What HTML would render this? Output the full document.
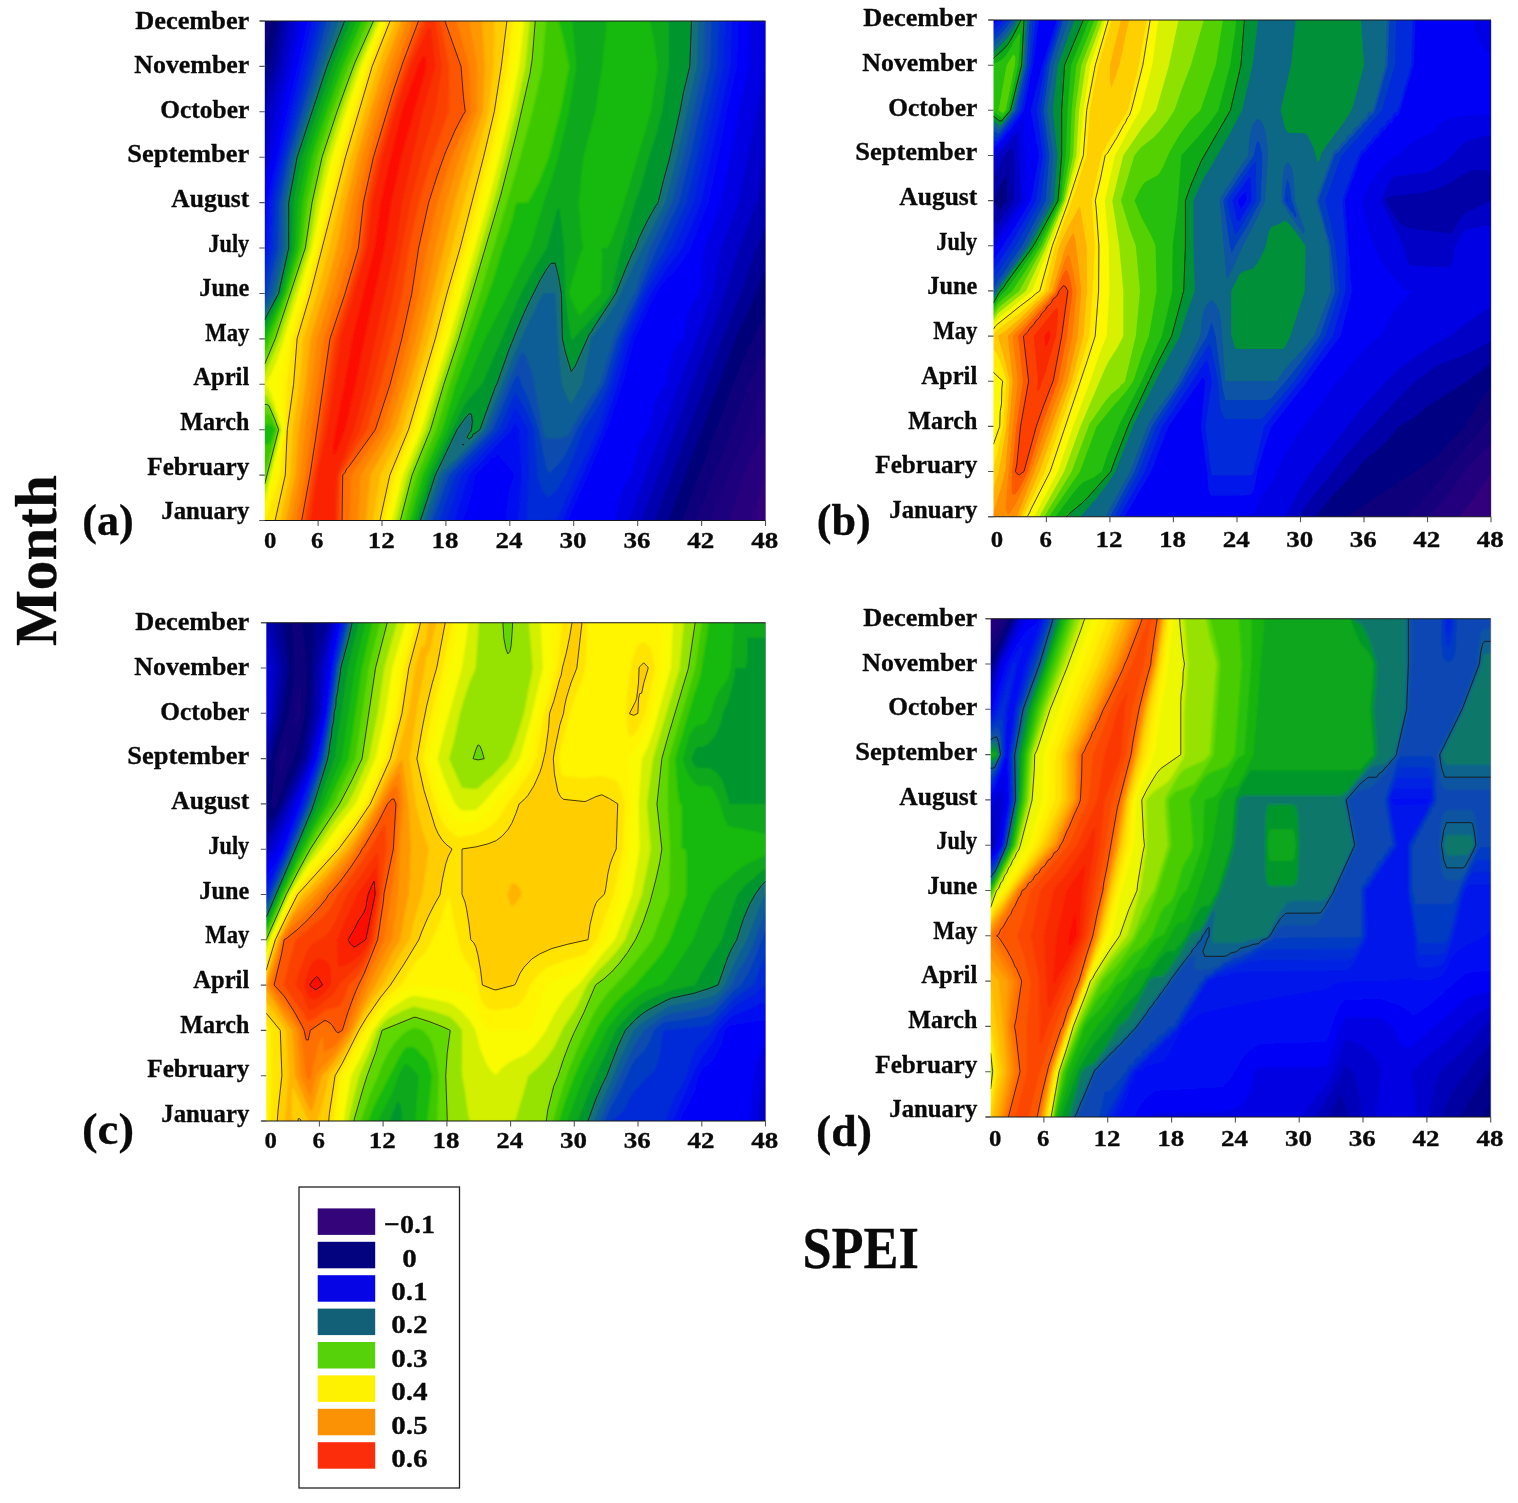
<!DOCTYPE html>
<html lang="en"><head><meta charset="utf-8"><title>SPEI correlation by month</title>
<style>html,body{margin:0;padding:0;background:#fff;overflow:hidden}svg{display:block}text{font-family:"Liberation Serif","DejaVu Serif",serif;font-weight:bold;fill:#0a0a0a;stroke:#0a0a0a;stroke-width:0.3px;stroke-linejoin:round}</style></head>
<body>
<svg width="1518" height="1503" viewBox="0 0 1518 1503">
<rect width="1518" height="1503" fill="#fff"/>
<clipPath id="ca"><rect x="264.8" y="21" width="500.7" height="499.5"/></clipPath>
<filter id="fca" x="-5%" y="-5%" width="110%" height="110%"><feGaussianBlur stdDeviation="1.3"/></filter>
<g clip-path="url(#ca)"><g filter="url(#fca)">
<rect x="261.8" y="18" width="506.7" height="505.5" fill="#32007d"/>
<path fill="#28007d" fill-rule="evenodd" d="M261.8 18 768.5 18 768.5 475 765.5 475 763.5 480.7 755.5 507.9 752.2 520.5 752.2 523.5 261.8 523.5Z"/>
<path fill="#1e007d" fill-rule="evenodd" d="M261.8 18 768.5 18 768.5 429.7 765.5 429.7 763.5 431.3 743.3 475 739.2 490.2 728.8 520.5 728.8 523.5 261.8 523.5Z"/>
<path fill="#14007c" fill-rule="evenodd" d="M261.8 18 768.5 18 768.5 384.3 765.5 384.3 763.5 386.1 748.2 429.7 733.5 463.4 717.4 502 710 520.5 710 523.5 261.8 523.5Z"/>
<path fill="#0a007a" fill-rule="evenodd" d="M261.8 18 768.5 18 768.5 353.9 765.5 353.9 761.5 358.7 748.5 384.3 732.4 429.7 715.4 470.9 696 520.5 696 523.5 261.8 523.5Z"/>
<path fill="#000078" fill-rule="evenodd" d="M271.8 18 768.5 18 768.5 316 765.5 316 761.5 321.6 747.5 350 739.5 368.1 685.4 511.3 682 520.5 682 523.5 261.8 523.5 261.8 50.7 264.8 50.7 271.8 21Z"/>
<path fill="#000094" fill-rule="evenodd" d="M278 18 768.5 18 768.5 270.7 765.5 270.7 763.5 274 756.3 293.3 735.6 338.7 668.3 520.5 668.3 523.5 261.8 523.5 261.8 77.2 264.8 77.2 268.2 66.3 278 21Z"/>
<path fill="#0000b0" fill-rule="evenodd" d="M283.3 18 768.5 18 768.5 225.3 765.5 225.3 756.6 248 740.8 293.3 722.1 338.7 671.5 475 654.8 520.5 654.8 523.5 261.8 523.5 261.8 99.9 264.8 99.9 275.3 66.3 283.3 21Z"/>
<path fill="#0000ca" fill-rule="evenodd" d="M288.7 18 768.5 18 768.5 157.3 765.5 157.3 756.4 202.7 739.1 248 725.4 293.3 641.3 520.5 641.3 523.5 261.8 523.5 261.8 133.5 264.8 133.5 268.1 111.7 281 66.3 288.7 21Z"/>
<path fill="#0000e2" fill-rule="evenodd" d="M295.3 18 768.5 18 768.5 66.3 765.5 66.3 748 157.3 738.7 202.7 721.6 248 712.8 293.3 628.7 520.5 628.7 523.5 261.8 523.5 261.8 168 264.8 168 267.3 157.3 275 111.7 286.8 66.3 295.3 21Z"/>
<path fill="#0000fa" fill-rule="evenodd" d="M302 18 749.8 18 748.7 66.3 739.1 111.7 730.7 157.3 720.9 202.7 704.1 248 699.6 293.3 693.4 301.9 687.4 314.4 684 331.1 683.4 337.8 677.4 344.8 673.4 351.6 667.4 372.1 665.6 384.3 657.3 395.9 653.4 407 650.2 422.1 649.4 429.7 643.3 437.1 639.3 444.7 633.3 467 631.8 475 627.3 480.7 623.3 487.5 619.9 497.8 616.4 512.9 615.4 523.5 261.8 523.5 261.8 190.5 264.8 190.5 272.7 157.3 281.9 111.7 292.5 66.3 302 21Z"/>
<path fill="#000ef0" fill-rule="evenodd" d="M307.7 18 738.7 18 737 66.3 727 111.7 718.3 157.3 708.3 202.7 695.4 236.8 689.4 251.2 677.4 268.2 671.4 274.9 667.4 278.2 661.4 285.6 656.1 293.3 634.8 338.7 622.8 384.3 607.1 429.7 587.3 477.1 567.9 520.5 567.9 523.5 505.2 523.5 506.8 505.3 509.1 490.7 514.2 475 513.1 472.8 497.1 453.4 495.1 457.8 491.1 458.7 489.8 459.9 489.1 461.7 487.1 464.2 485.1 465 483.1 466.8 481.1 469.8 475.3 475 472.8 490.2 467.1 510 462.8 520.5 462.8 523.5 261.8 523.5 261.8 223.6 264.8 223.6 266.3 202.7 307.7 21Z"/>
<path fill="#001ce6" fill-rule="evenodd" d="M312.3 18 732 18 730.3 66.3 701 202.7 682.3 248 667.4 267.7 650.8 293.3 630.3 338.7 617.8 384.3 602.5 429.7 562.5 520.5 562.5 523.5 517.8 523.5 521.8 475 519.3 429.7 515.2 422.4 511.1 430.6 468.7 475 454.4 520.5 454.4 523.5 261.8 523.5 261.8 255 264.8 255 266.5 248 269.5 202.7 280.8 152.4 312.3 21Z"/>
<path fill="#022bd7" fill-rule="evenodd" d="M317 18 725.3 18 723.7 66.3 693.7 202.7 673.7 248 661.4 266.8 647.3 290.2 637.3 312.2 625.9 338.7 612.8 384.3 597.9 429.7 577.2 473.7 557.2 519.2 555.2 520.5 527.2 520.5 526.9 512.9 528.6 475 527.8 429.7 515.2 407.2 505.2 429.7 462 475 446.8 520.5 446.8 523.5 261.8 523.5 261.8 270.1 264.8 270.1 270.2 248 272.7 202.7 282.6 157.3 305.9 66.3 317 21Z"/>
<path fill="#053bc3" fill-rule="evenodd" d="M321.7 18 718.7 18 717 66.3 697 157.3 686.3 202.7 665.7 248 651.3 273.8 643.3 289.8 621.7 338.7 607.3 387.4 601.3 400.8 597.6 407 595.3 412.2 593 414.6 591.3 418.5 588.3 422.1 585.2 427.8 583 429.7 573.2 457.2 565.6 475 557.2 488.9 553.2 493.5 549.2 496.7 547.2 496.7 545.2 494.7 542.4 490.2 539.4 482.6 537.6 475 534.1 429.7 527.2 412.7 515.2 392.1 498.6 429.7 455.3 475 439.1 520.5 439.1 523.5 261.8 523.5 261.8 285.3 264.8 285.3 273.9 248 275.9 202.7 285.4 157.3 310.1 66.3 321.7 21Z"/>
<path fill="#084baf" fill-rule="evenodd" d="M326.3 18 712 18 710.3 66.3 690.3 157.3 679 202.7 657.3 248.7 647.3 271.7 637.3 297.2 617.7 338.7 604.2 384.3 577.1 429.7 571.2 443.4 565.2 455.3 561.2 461.3 549.2 473.9 547.2 470.3 545.2 464 538.4 429.7 535.2 419.2 527.2 396.2 521.3 384.3 518.8 376.7 517.2 374.9 512.4 384.3 493.2 429.7 449.6 475 433.2 520.5 433.2 523.5 261.8 523.5 261.8 296.9 264.8 296.9 266.7 293.3 277.6 248 279.1 202.7 288.3 157.3 314.3 66.3 326.3 21Z"/>
<path fill="#0d5d96" fill-rule="evenodd" d="M331.9 18 705.3 18 703.7 66.3 683.7 157.3 672 202.7 650 248 639.3 279.7 635.5 293.3 633.3 295.3 627.3 307 615.3 333.6 600 384.3 597.3 387.7 595.3 392 593.3 393.9 587.3 403 577.2 419.3 576.1 422.1 573.2 426.1 571.2 431.3 567.2 436.2 559.2 438.4 547.2 438.5 545.2 437.2 543.2 432.3 532.7 376.7 530.8 369.1 525.2 355.2 523.2 352.8 521.2 353.5 509.1 379.9 488.9 429.7 444.9 475 428.9 520.5 428.9 523.5 261.8 523.5 261.8 304.4 264.8 304.4 270.7 293.3 281.3 248 282.3 202.7 291.2 157.3 331.9 21Z"/>
<path fill="#126e7d" fill-rule="evenodd" d="M338.3 18 698.7 18 697 66.3 677 157.3 665.3 202.7 631.3 270.9 615.3 305.4 612.8 308.4 611.3 311.8 605.3 320.8 591.1 338.7 588.7 353.9 582.2 384.3 571.2 404 567.2 398.5 561.6 384.3 557.8 346.3 555.2 293.3 543.2 293.3 541.2 298.1 539.2 300.8 535.2 310.1 529.2 321.3 513.1 356.9 484.6 429.7 455 459.9 451.1 463.4 449.1 464.2 447.1 467.9 445.1 469.6 443 469.5 440.1 475 437 483.9 424.6 520.5 424.6 523.5 261.8 523.5 261.8 312 264.8 312 274.7 293.3 285 248 285.5 202.7 294.1 157.3 322.9 66 338.3 21Z"/>
<path fill="#00962d" fill-rule="evenodd" d="M344.6 18 691.6 18 689.8 66.3 683.4 92.9 679.9 111.7 669.8 157.3 663.6 180 658.1 202.7 655.3 206.6 647.3 220.9 639.3 237.4 635.3 248 633.3 251.2 625.3 269.6 616 293.3 593.3 328.2 591.3 332.1 589.3 334.2 575.2 366.2 571.2 371.4 565.2 351.4 562.4 338.7 561.3 293.3 559.2 280.2 555.2 263.3 551.2 263.3 547.2 268.2 539.2 282 527.2 306.1 521.2 319.6 509.1 349.3 497.1 383.5 495.1 387.4 479.9 429.7 475.1 433.3 473.1 434.1 471.9 437.2 469.1 439.1 467.1 437.4 469.1 433.1 471.1 431.1 472.4 422.1 471.5 414.6 469.1 413.8 465.1 418.2 457.1 429.6 435.4 475 420.4 520.5 420.4 523.5 261.8 523.5 261.8 319.5 264.8 319.5 278.6 293.3 288.7 248 288.7 202.7 297.1 157.3 327 66.3 344.6 21ZM462.6 444.8 463.1 443.9 463.6 444.8Z"/>
<path fill="#0da81b" fill-rule="evenodd" d="M350.5 18 668.8 18 668.9 66.3 662.2 111.7 655.3 137.6 648.9 157.3 641.3 185.7 635.3 202.8 621.3 250.3 615.3 273.9 611.1 293.3 601.1 308.4 573.2 339 571.2 339.2 568.6 323.6 565 293.3 564.2 248 559.2 206.7 557.2 209.7 547 248 535.2 267 521.2 293.3 482.3 384.3 469.1 398.8 465.1 404.3 461.1 411.3 431.3 475 417 520.5 417 523.5 261.8 523.5 261.8 327.1 264.8 327.1 270.8 315.7 281 293.3 292 248 293.3 202.7 302 157.3 332.3 66.3 350.5 21Z"/>
<path fill="#19b90a" fill-rule="evenodd" d="M356.3 18 572 18 576.5 66.3 569 111.7 557.2 161.3 551.2 181.1 543.7 202.7 530.3 248 521.2 265.7 505.1 300.2 485.3 338.7 477.1 357.9 466.7 384.3 461.1 395.3 451.1 419.8 447.7 429.7 427.3 475 413.7 520.5 413.7 523.5 261.8 523.5 261.8 334.7 264.8 334.7 266.8 330.9 274.8 313.6 283.3 293.3 295.3 248 298 202.7 307 157.3 322 111.7 337.7 66.3 356.3 21ZM607 18 650 18 650 21 654.5 43.7 657.6 66.3 650.9 111.7 624.2 202.7 611.3 240.8 607.3 248 583.2 248 581.2 236.7 578.7 202.7 581.2 176.5 583.3 157.3 595.3 111.7 602 66.3ZM579.8 255.6 581.2 250.9 583.2 248 601.3 248 602.6 255.6 600.9 293.3 579.2 316.1 571.2 299.5 569.1 293.3 571.2 284.3Z"/>
<path fill="#3cc805" fill-rule="evenodd" d="M362.1 18 558.7 18 558.7 21 563.2 37.5 569.3 66.3 563.2 98.1 560.5 111.7 549 157.3 539.2 182 529.2 200.8 527.2 202.7 517.2 202.7 515.2 206.2 514.6 210.2 509.1 230.6 502.7 248 493.1 280.7 455.7 384.3 442.3 429.7 422.7 475 409.7 520.5 409.7 523.5 261.8 523.5 261.8 444.2 268.8 444.2 270.8 441.2 274.6 429.7 272.8 426.3 270.8 424.6 261.8 424.6 261.8 343.4 264.8 343.4 274.8 320.6 285.7 293.3 298.7 248 302.7 202.7 312 157.3 327 111.7 343 66.3 362.1 21Z"/>
<path fill="#5fd700" fill-rule="evenodd" d="M367.9 18 546.4 18 542.5 66.3 541.2 73.2 532.5 111.7 520.3 157.3 480.3 293.3 449.7 384.3 436.3 429.7 417.3 475 405 520.5 405 523.5 261.8 523.5 261.8 473.2 264.8 473.2 276.7 429.7 270.8 416.1 268.8 414.6 261.8 414.6 261.8 353.6 264.8 353.6 272.8 334.4 288 293.3 302 248 307.3 202.7 317 157.3 332 111.7 348.3 66.3 367.9 21Z"/>
<path fill="#96e200" fill-rule="evenodd" d="M373.4 18 535.5 18 532.3 58.8 531.5 66.3 528.4 81.4 512.5 149.7 495.1 215.5 458.8 338.7 443.8 384.3 430.5 429.7 412.1 475 400.4 520.5 400.4 523.5 261.8 523.5 261.8 483.6 264.8 483.6 278.6 429.7 268.8 405.5 266.8 404.5 261.8 404.5 261.8 363.8 264.8 363.8 275.3 338.7 305.3 248 312 202.7 322 157.3 337 111.7 348.9 78.7 354.9 62.7 373.4 21Z"/>
<path fill="#d2f000" fill-rule="evenodd" d="M376.9 18 530 18 525.3 66.3 515.9 111.7 505 157.3 493.3 202.7 480.3 248 454 338.7 439.3 384.3 426 429.7 407.7 475 396.3 520.5 396.3 523.5 261.8 523.5 261.8 492.8 264.8 492.8 280.3 429.7 274.8 413 270.8 403.3 266.8 395.8 264.8 394.5 261.8 394.5 261.8 374 264.8 374 274.8 350.8 279.7 338.7 290.8 304.2 308.7 248 316.3 202.7 326.7 157.3 341.3 111.7 357.3 66.3 376.9 21Z"/>
<path fill="#fafa00" fill-rule="evenodd" d="M380.1 18 524.7 18 519.3 66.3 510.5 111.7 499.7 157.3 488 202.7 449.3 338.7 435 384.3 421.7 429.7 403.3 475 392.3 520.5 392.3 523.5 261.8 523.5 261.8 502 264.8 502 281.9 429.7 274.8 405 270.8 393.4 268.8 388.9 266.8 386.2 264.8 384.4 261.8 384.2 264.8 384.2 270.8 374.5 276.8 360.2 282.8 342.6 312 248 320.7 202.7 331.3 157.3 345.7 111.7 361 66.3 380.1 21Z"/>
<path fill="#fff500" fill-rule="evenodd" d="M383.3 18 519 18 513.3 66.3 505.1 111.7 494.3 157.3 470.3 248 457 293.3 444.7 338.7 417.3 429.7 399 475 388.3 520.5 388.3 523.5 261.8 523.5 261.8 511.2 264.8 511.2 268.8 494.2 274.7 475 283.5 429.7 280.8 401.3 278.6 384.3 288.3 338.7 302.3 293.3 315.3 248 325 202.7 336 157.3 350 111.7 364.7 66.3 383.3 21Z"/>
<path fill="#ffe400" fill-rule="evenodd" d="M386.5 18 513 18 507.3 66.3 499.7 111.7 489 157.3 465.3 248 452 293.3 440 338.7 413 429.7 394.7 475 384.3 520.5 384.3 523.5 261.8 523.5 261.8 520.4 264.8 520.4 268.8 510.6 274.8 492.8 280 475 285.3 429.7 286.2 384.3 292.7 338.7 306.3 293.3 318.7 248 340.7 157.3 368.3 66.3 386.5 21Z"/>
<path fill="#ffcd00" fill-rule="evenodd" d="M390 18 506.9 18 501.3 66.3 494.3 111.7 483.5 157.3 460.1 248 447 293.3 435.3 338.7 408.5 429.7 389.9 475 381.6 512.9 380 520.5 380 523.5 275.1 523.5 275.1 520.5 285.3 475 287.3 429.7 293.6 384.3 297.1 338.7 310.5 293.3 345.4 157.3 372.2 66.3 389 23.7 390 21Z"/>
<path fill="#ffb400" fill-rule="evenodd" d="M395.5 18 494.3 18 493.3 66.3 488.5 111.7 463.3 202.7 428.7 338.7 415.7 384.3 402 429.7 393 449.4 380.3 475 373 520.5 373 523.5 280.7 523.5 280.7 520.5 290.3 475 293 429.7 299.7 384.3 303.7 338.7 317.3 293.3 329.3 248 339.7 202.7 351 157.3 378 66.3 395.5 21Z"/>
<path fill="#ff9800" fill-rule="evenodd" d="M401.3 18 481.7 18 485.2 66.3 482.7 111.7 467.7 157.3 454.7 202.7 422 338.7 409.3 384.3 401 411.4 395.3 429.7 383 453 370.3 475 365.7 523.5 286 523.5 286 520.5 295.3 475 299 429.7 305.7 384.3 310.3 338.7 324.3 293.3 336.7 248 345.7 202.7 356.7 157.3 370 111.7 384 66.3 401.3 21Z"/>
<path fill="#ff8400" fill-rule="evenodd" d="M407.1 18 469.2 18 469.2 21 477.1 66.3 476.9 111.7 459.7 157.3 446 202.7 435.3 248 426 293.3 415.3 338.7 403 384.3 389 428.7 379 446 360.7 475 357.9 523.5 291.3 523.5 291.3 520.5 300.3 475 305 429.7 311.7 384.3 317 338.7 331.3 293.3 344 248 351.7 202.7 362.3 157.3 375.7 111.7 390 66.3 407.1 21Z"/>
<path fill="#ff7000" fill-rule="evenodd" d="M412.9 18 456.9 18 456.9 21 469.1 66.3 471.1 111.7 461.1 136.3 451.7 157.3 437.3 202.7 427 248 419 293.3 408.7 338.7 396.7 384.3 382 429.7 364.9 455.8 351.3 475 349.6 523.5 296.7 523.5 296.7 520.5 305.3 475 311 429.7 317.7 384.3 323.7 338.7 338.3 293.3 351.3 248 357.7 202.7 368 157.3 383 106.6 396 66.3 412.9 21Z"/>
<path fill="#fd5500" fill-rule="evenodd" d="M418.5 18 444.9 18 445.1 21.7 461 66.3 463.4 96.6 465.2 111.7 455.1 130.2 445.1 153.2 437 176.2 428.6 202.7 418.6 248 411.8 293.3 401.8 338.7 390.1 384.3 375.3 429.7 348.9 466.5 346.9 468.5 344.9 472.8 342.7 475 342 523.5 301.7 523.5 301.7 520.5 310 475 316.9 430.1 330 338.7 345.1 293.3 358.4 248 363.4 202.7 373.4 157.3 393 92.1 403 62.2 418.5 21Z"/>
<path fill="#fb4100" fill-rule="evenodd" d="M422.6 18 439.9 18 439.9 21 448.8 66.3 448.7 111.7 432.1 157.3 418.7 202.7 408.8 248 402.1 293.3 393.8 331.1 380.5 384.3 370.9 416.5 367 429.7 352.9 452.2 340.3 475 339.3 523.5 304.8 523.5 304.8 520.5 320.3 429.7 333.7 338.7 348.1 293.3 361.4 248 366.4 202.7 376.4 157.3 393 101.9 405 65.7 422.6 21Z"/>
<path fill="#fa3000" fill-rule="evenodd" d="M426.4 18 435.1 18 435.1 21 442 66.3 435.3 111.7 423 153.6 410.3 202.7 393.7 293.3 383.7 338.7 372.8 384.3 360.3 429.7 348.9 452.6 346.9 457.7 344.9 460.3 342.9 466.2 340.9 469.4 338.7 475 337.3 523.5 307.6 523.5 307.6 520.5 314.8 475 323.7 429.7 337 338.7 364.2 248 369.2 202.7 379.2 157.3 392.6 111.7 407.6 66.3 426.4 21Z"/>
<path fill="#fa2000" fill-rule="evenodd" d="M428.4 28.6 429 27.3 430.2 28.6 431 31.5 435.3 66.3 422.2 111.7 403.5 195.1 401.9 202.7 395.2 248 365.3 384.3 353.5 429.7 346.9 446.5 342.4 459.9 340.9 461.8 336.9 475 335.5 490.2 335 523.5 310.7 523.5 310.7 520.5 312.3 512.9 312.8 505.3 314.5 497.8 314.9 491.6 316.6 482.6 317.3 475 325.9 437.2 328.6 422.1 340 346.3 340.7 338.7 350.9 305.3 367.1 248 368.4 240.4 372.5 202.7 382.5 157.3 395.7 111.7 410.7 66.3Z"/>
<path fill="#fd0f00" fill-rule="evenodd" d="M421.9 58.8 423 56.6 425 56.5 426.4 66.3 400.9 157.3 390.9 202.7 384.2 248 364.2 338.7 355.3 384.3 344.8 429.7 334.9 455.3 333.4 452.3 333.6 444.8 335.9 429.7 344.8 384.3 352.6 338.7 374.8 248 380.9 202.7 390.9 157.3 402 111.7 418.1 66.3ZM332.5 459.9 332.9 457.3 332.9 460.4Z"/>
</g>
<path fill="none" stroke="#1a0d00" stroke-opacity="0.78" stroke-width="1" stroke-linejoin="round" d="M691.6 18 689.8 66.3 683.4 92.9 679.9 111.7 669.8 157.3 663.6 180 658.1 202.7 655.3 206.6 647.3 220.9 639.3 237.4 635.3 248 633.3 251.2 625.3 269.6 616 293.3 593.3 328.2 591.3 332.1 589.3 334.2 575.2 366.2 571.2 371.4 565.2 351.4 562.4 338.7 561.3 293.3 558.8 278.2 555.2 263.3 551.2 263.3 549.2 265.6 545.2 271.4 539.2 282 527.2 306.1 521.2 319.6 509.1 349.3 497.1 383.5 495.1 387.4 479.9 429.7 475.1 433.3 473.1 434.1 471.9 437.2 469.1 439.1 467.1 437.4 469.1 433.1 471.1 431.1 472.4 422.1 471.5 414.6 471.1 414.1 469.1 413.8 465.1 418.2 457.1 429.6 435.4 475 420.4 520.5 420.4 523.5M261.8 319.5 264.8 319.5 278.6 293.3 288.7 248 288.7 202.7 297.1 157.3 327 66.3 344.6 21 344.6 18M462.6 444.8 463.1 443.9 463.6 444.8 463.1 445.1 462.6 444.8M535.5 18 532.3 58.8 530 73.9 516.2 134.5 500.8 195.1 458.8 338.7 443.8 384.3 430.5 429.7 412.1 475 400.4 520.5 400.4 523.5M261.8 363.8 264.8 363.8 275.3 338.7 305.3 248 312 202.7 322 157.3 337 111.7 348.9 78.7 354.9 62.7 373.4 21 373.4 18M261.8 483.6 264.8 483.6 278.6 429.7 274.8 419.4 268.8 405.5 266.8 404.5 261.8 404.5M506.9 18 506.9 21 501.3 66.3 494.3 111.7 483.5 157.3 460.1 248 447 293.3 435.3 338.7 413 414.6 408.5 429.7 389.9 475 381.6 512.9 380 520.5 380 523.5M275.1 523.5 275.1 520.5 285.3 475 287.3 429.7 293.6 384.3 297.1 338.7 310.5 293.3 345.4 157.3 372.2 66.3 389 23.7 390 21 390 18M444.9 18 445.1 21.7 461 66.3 463.4 96.6 465.2 111.7 463.1 114.8 455.1 130.2 445.1 153.2 437 176.2 428.6 202.7 418.6 248 411.8 293.3 401.8 338.7 390.1 384.3 375.3 429.7 348.9 466.5 346.9 468.5 344.9 472.8 342.7 475 342 523.5M301.7 523.5 301.7 520.5 310 475 316.9 430.1 330 338.7 345.1 293.3 358.4 248 363.4 202.7 373.4 157.3 393 92.1 403 62.2 418.5 21 418.5 18"/>
</g>
<path d="M765.5 21V520.5" stroke="#334" stroke-opacity="0.35" stroke-width="1" fill="none"/>
<path d="M259.8 21H765.5M259.8 520.5H765.5" stroke="#181818" stroke-width="1.1" fill="none"/>
<path d="M259.3 21h5.5M259.3 66.4h5.5M259.3 111.8h5.5M259.3 157.2h5.5M259.3 202.6h5.5M259.3 248h5.5M259.3 293.5h5.5M259.3 338.9h5.5M259.3 384.3h5.5M259.3 429.7h5.5M259.3 475.1h5.5M259.3 520.5h5.5M318.1 520.5v5.5M382 520.5v5.5M445.9 520.5v5.5M509.8 520.5v5.5M573.7 520.5v5.5M637.7 520.5v5.5M701.6 520.5v5.5M765.5 520.5v5.5" stroke="#555" stroke-width="1.1" fill="none"/>
<text x="135.3" y="28.5" font-size="24.2" textLength="114" lengthAdjust="spacingAndGlyphs">December</text>
<text x="134.3" y="73.1" font-size="24.2" textLength="115" lengthAdjust="spacingAndGlyphs">November</text>
<text x="160.3" y="117.7" font-size="24.2" textLength="89" lengthAdjust="spacingAndGlyphs">October</text>
<text x="127.3" y="162.3" font-size="24.2" textLength="122" lengthAdjust="spacingAndGlyphs">September</text>
<text x="171.3" y="206.9" font-size="24.2" textLength="78" lengthAdjust="spacingAndGlyphs">August</text>
<text x="208.3" y="251.5" font-size="24.2" textLength="41" lengthAdjust="spacingAndGlyphs">July</text>
<text x="199.3" y="296.2" font-size="24.2" textLength="50" lengthAdjust="spacingAndGlyphs">June</text>
<text x="205.3" y="340.8" font-size="24.2" textLength="44" lengthAdjust="spacingAndGlyphs">May</text>
<text x="193.3" y="385.4" font-size="24.2" textLength="56" lengthAdjust="spacingAndGlyphs">April</text>
<text x="180.3" y="430" font-size="24.2" textLength="69" lengthAdjust="spacingAndGlyphs">March</text>
<text x="147.3" y="474.6" font-size="24.2" textLength="102" lengthAdjust="spacingAndGlyphs">February</text>
<text x="161.3" y="519.2" font-size="24.2" textLength="88" lengthAdjust="spacingAndGlyphs">January</text>
<text x="264.1" y="547.7" font-size="23" textLength="12.4" lengthAdjust="spacingAndGlyphs" stroke-width="0.15">0</text>
<text x="311.1" y="547.7" font-size="23" textLength="12.4" lengthAdjust="spacingAndGlyphs" stroke-width="0.15">6</text>
<text x="367.7" y="547.7" font-size="23" textLength="27" lengthAdjust="spacingAndGlyphs" stroke-width="0.15">12</text>
<text x="431.6" y="547.7" font-size="23" textLength="27" lengthAdjust="spacingAndGlyphs" stroke-width="0.15">18</text>
<text x="495.5" y="547.7" font-size="23" textLength="27" lengthAdjust="spacingAndGlyphs" stroke-width="0.15">24</text>
<text x="559.4" y="547.7" font-size="23" textLength="27" lengthAdjust="spacingAndGlyphs" stroke-width="0.15">30</text>
<text x="623.4" y="547.7" font-size="23" textLength="27" lengthAdjust="spacingAndGlyphs" stroke-width="0.15">36</text>
<text x="687.3" y="547.7" font-size="23" textLength="27" lengthAdjust="spacingAndGlyphs" stroke-width="0.15">42</text>
<text x="751.2" y="547.7" font-size="23" textLength="27" lengthAdjust="spacingAndGlyphs" stroke-width="0.15">48</text>
<text x="82.2" y="535.3" font-size="45" textLength="51.5" lengthAdjust="spacingAndGlyphs">(a)</text>
<clipPath id="cb"><rect x="993.5" y="20" width="497.5" height="496.7"/></clipPath>
<filter id="fcb" x="-5%" y="-5%" width="110%" height="110%"><feGaussianBlur stdDeviation="0.7"/></filter>
<g clip-path="url(#cb)"><g filter="url(#fcb)">
<rect x="990.5" y="17" width="503.5" height="502.7" fill="#32007d"/>
<path fill="#22007d" fill-rule="evenodd" d="M990.5 17 1494 17 1494 472.8 1491 472.8 1475 497.1 1459.4 516.7 1459.4 519.7 990.5 519.7Z"/>
<path fill="#15007c" fill-rule="evenodd" d="M990.5 17 1494 17 1494 444.1 1491 444.1 1483 451.5 1467 467.8 1451 490.4 1439.1 505.8 1429.7 516.7 1429.7 519.7 990.5 519.7Z"/>
<path fill="#09007a" fill-rule="evenodd" d="M990.5 17 1494 17 1494 416 1491 416 1483.9 426.4 1461 453.4 1433.1 488.9 1427.1 495.9 1417.1 505.4 1409.1 514.3 1407.2 516.7 1407.2 519.7 990.5 519.7Z"/>
<path fill="#000082" fill-rule="evenodd" d="M990.5 17 1494 17 1494 387.5 1491 387.5 1481 400.1 1471 414.8 1464.4 426.4 1461 430.5 1447 443.8 1437.1 455.9 1433.1 459.2 1415.5 471.5 1346.3 516.7 1346.3 519.7 990.5 519.7Z"/>
<path fill="#0000a6" fill-rule="evenodd" d="M990.5 17 1494 17 1494 363.6 1491 363.6 1467 381.4 1429.1 405.2 1413.1 418.3 1407.1 422.1 1398.7 426.4 1391.1 436.2 1385.1 442.8 1377.1 450.2 1367.1 457.9 1347.1 480.6 1335.2 492.5 1315.2 516.7 1315.2 519.7 990.5 519.7 990.5 200.9 993.5 200.9 999.5 210.6 1001.5 209 1007.1 200.6 1006.9 185.6 1006.2 178 1005.5 176.2 1003.5 178.6 993.5 200.3 990.5 200.3Z"/>
<path fill="#0000c7" fill-rule="evenodd" d="M990.5 17 1494 17 1494 173.5 1489 173.5 1487 169.4 1483 171.2 1481 169.9 1479 170.4 1477 169.6 1471 170.8 1461 175.7 1449 183.6 1437.1 188.8 1421.1 193.1 1391.1 196.1 1389.1 196.7 1387.1 198.2 1385.4 200.6 1393.1 212.7 1394.4 215.7 1397.1 218.8 1399 223.2 1401.1 223.9 1403.1 225.6 1409.1 228.2 1411.1 228.5 1429.1 231 1451 233.2 1453 231.4 1459 220.5 1461 217.8 1467 211.9 1491 201 1494 201 1494 340.9 1491 340.9 1473 351.2 1459 357.2 1437.1 365.6 1429.1 370.9 1415.5 381.2 1389.1 408 1351.1 449.6 1311.2 498.4 1297.9 516.7 1297.9 519.7 990.5 519.7 990.5 219.4 993.5 219.4 995.6 223.2 997.5 225.1 1013.9 200.6 1013.6 155.5 1011.5 148.1 1003.8 155.5 993.5 177.7 990.5 177.7Z"/>
<path fill="#0000e5" fill-rule="evenodd" d="M990.5 17 1494 17 1494 135.1 1491 135.1 1483 136.6 1467 140.7 1459 147.4 1452.6 155.5 1449 158.6 1439.1 165.9 1429.1 171.5 1425.1 172.5 1395.1 176 1393.1 177.3 1389.1 182.8 1380.9 200.6 1403.4 245.8 1407.1 260.1 1409.1 264.4 1411.1 265.8 1449 267.5 1451 266.4 1453 261.6 1455.3 245.8 1459 238.3 1463 232 1465 230.1 1485 226.1 1494 225.9 1494 306.4 1491 306.4 1459 328.5 1450.2 336.1 1435.1 344.2 1421.1 353 1401.1 366.9 1391.1 376.1 1361.1 409.1 1309.2 474.8 1303.2 483.6 1295.2 497.5 1285.8 516.7 1285.8 519.7 990.5 519.7 990.5 237.9 995.5 238.4 1020.6 200.6 1019.5 155.5 1018 132.9 1017.5 132.3 1016.7 132.9 1007.5 143.7 999.5 151.5 995.5 154.6 993.5 155.4 990.5 155.4Z"/>
<path fill="#0005f6" fill-rule="evenodd" d="M990.5 17 1473.5 17 1473.5 20 1475 29.1 1477 36.6 1479.5 42.6 1483 47.6 1487 51.2 1491 53.6 1494 53.6 1494 114.4 1463 115.9 1451 118.3 1443 121.4 1437.1 126.1 1433.1 132.4 1421.1 137.5 1413.1 141.8 1404.9 147.9 1397.9 155.5 1393.1 156.5 1391.1 157.8 1388 163 1377.1 173.5 1371.1 182 1367.1 189.1 1361.9 200.6 1367.1 224.3 1371.1 237.8 1375.1 248.5 1379.1 257.1 1385.1 267.1 1391.1 274.7 1399.1 283.1 1401.1 286.8 1403.1 288.9 1405.1 289.8 1412.1 290.9 1403.1 300 1395.1 310.3 1387.1 323.3 1380.9 336.1 1375.1 339.2 1373.1 340.8 1349.1 366.8 1335.2 384.1 1309.2 418.4 1307.2 421.7 1299.2 430.9 1287.2 450.2 1281.2 462.2 1275.2 475.8 1271.2 483.2 1267.2 488.8 1261.2 495.3 1256.4 509.2 1255.2 511.3 1253.2 513.2 1249.2 514.3 1209.3 516.3 1205.3 516 1202.7 516.7 1202.7 519.7 990.5 519.7 990.5 251.1 993.5 251.1 1026.3 200.6 1025.5 155.5 1023.5 118.1 1021.5 119.6 1007.5 137.6 999.5 146.1 997.5 147.4 995.5 150.6 990.5 150.5Z"/>
<path fill="#0017ea" fill-rule="evenodd" d="M997.9 17 1038.9 17 1038.9 20 1032.9 65.2 1023.9 110.3 1011.5 127.9 995.5 146.5 993.5 145.6 990.5 145.6 990.5 24.4 993.5 24.4 997.9 20ZM1056.7 17 1415.4 17 1413.6 65.2 1399.1 113.6 1397.1 115.7 1395.1 115.8 1393.1 120.5 1391.1 122.8 1389.1 123.1 1385.1 129.8 1383.1 130.4 1381.1 132.4 1379.1 136.7 1375.1 139 1373.1 143.5 1369.1 145.8 1367.1 150 1365.1 152.3 1363.1 152.8 1361.3 155.5 1344.7 200.6 1351.8 290.9 1340.4 336.1 1315.2 369.7 1305.2 383.9 1271.4 426.4 1265.2 444.2 1257.2 470.9 1255.2 482.9 1253.2 491 1251.2 494.3 1249.2 494.9 1211.3 495.8 1209.3 492.2 1208.3 486.6 1207.2 471.5 1201 426.4 1205.3 381.2 1203.3 376.8 1201.3 379 1199.3 382.7 1195.3 387.6 1168.4 426.4 1151.1 471.5 1124.4 516.7 1124.4 519.7 990.5 519.7 990.5 260.4 993.5 260.4 1009.5 236.1 1031.1 200.6 1039.3 155.5 1030.8 110.3 1042.3 65.2 1056.7 20ZM1245.2 191.8 1243.2 193.5 1238.1 200.6 1239.3 205.7 1241.3 208.8 1246.5 200.6 1246.1 193.1Z"/>
<path fill="#0129da" fill-rule="evenodd" d="M1003.6 17 1035.9 17 1035.9 20 1030.8 65.2 1021.4 110.3 1013.5 121.2 997.5 141.4 995.5 142.1 993.5 140.7 990.5 140.7 990.5 30 993.5 30 1003.6 20ZM1058.9 17 1413 17 1411.3 65.2 1398.1 110.3 1397.1 111.9 1395.1 112.1 1393.1 113.8 1391.1 118.6 1387.1 120.7 1385 125.4 1381.1 127.8 1378.2 132.9 1373.1 137 1371.1 141.2 1367.1 143.8 1365.1 148.4 1361.1 150.7 1357.1 159.9 1343.1 198 1342.4 200.6 1346 245.8 1345.6 290.9 1333 336.1 1300.6 381.2 1264.1 426.4 1253.2 473.2 1251.2 475.3 1249.2 475.4 1213.3 475.6 1211.3 475.2 1205.3 426.4 1211.8 381.2 1207.3 360.2 1205.3 361.7 1203.3 364.5 1192.6 381.2 1162.2 426.4 1144.9 471.5 1119.4 516.7 1119.4 519.7 990.5 519.7 990.5 269.8 993.5 269.8 1009.6 245.8 1036 200.6 1042.7 155.5 1036.8 110.3 1044.7 65.2 1058.9 20ZM1249.2 177.2 1232.5 200.6 1237.3 221.1 1239.3 220.7 1251.4 200.6 1250.6 178Z"/>
<path fill="#053dc0" fill-rule="evenodd" d="M1008.4 17 1032.9 17 1032.9 20 1028.6 65.2 1018.8 110.3 1001.5 133.5 997.5 137.8 995.5 137.4 993.5 135.8 990.5 135.8 990.5 35.7 993.5 35.7 1003.5 25.8 1008.4 20ZM1061.1 17 1396.5 17 1394.8 65.2 1382 110.3 1365.1 129.2 1363.1 132.3 1361.9 132.9 1359.1 135.9 1357.1 139.1 1355.1 140.4 1343.1 154.5 1341.6 155.5 1325.2 200.6 1331.2 225.4 1335.2 245.8 1338.4 275.9 1339.5 290.9 1325.6 336.1 1294.3 381.2 1265.2 415.4 1261.2 418.9 1225.3 418.9 1223.3 416.6 1221.1 411.3 1219.7 403.8 1218 381.2 1217.3 377.3 1211.3 348.6 1209.3 344 1185.3 381.6 1183.3 385.7 1180.8 388.8 1156.2 426.4 1138.9 471.5 1114.6 516.7 1114.6 519.7 990.5 519.7 990.5 279.1 993.5 279.1 1015.8 245.8 1040.8 200.6 1046 155.5 1040.5 110.3 1047.1 65.2 1061.1 20ZM1255.2 162.2 1251.2 166.6 1227 200.6 1229.9 215.7 1235.3 234.4 1237.3 232.9 1256.3 200.6 1255.9 170.5 1255.7 163ZM1287.2 195.9 1286.5 200.6 1287.2 201.8 1288.5 200.6Z"/>
<path fill="#0a52a6" fill-rule="evenodd" d="M1012.1 17 1029.9 17 1026.5 65.2 1016.2 110.3 1001.5 130.5 999.5 133 997.5 133.8 993.5 131 990.5 131 990.5 41.3 993.5 41.3 1001.5 33.4 1012.1 20ZM1063.2 17 1389.4 17 1387.7 65.2 1375.1 110.4 1373.1 114.2 1371.1 115 1369.1 116.7 1367.1 120.8 1363.1 123.5 1361.1 127 1355.1 132.6 1353.1 136 1349.1 138.9 1347.1 142.4 1341.2 147.9 1339.2 151.7 1335.2 153.9 1318.3 200.6 1330.5 245.8 1335.1 290.9 1321.2 332.2 1319.8 336.1 1301.2 361.7 1289.2 377.1 1271.2 398.2 1267.2 400.1 1225.3 400.1 1222.7 388.8 1215.5 336.1 1213.3 327.6 1211.3 322.7 1207.2 336.1 1195.3 356.1 1181.8 381.2 1151.7 426.4 1134.4 471.5 1110.2 516.7 1110.2 519.7 990.5 519.7 990.5 288.4 993.5 288.4 999.5 278.6 1001.9 275.9 1005.5 269.8 1006.9 268.4 1009.5 263.8 1022.1 245.8 1045.7 200.6 1049.3 155.5 1043.6 110.3 1049.6 65.2 1061.4 26.4 1063.2 20ZM1255.2 147.9 1253.7 155.5 1239.3 176.2 1223.3 200.6 1229.3 242.2 1231.3 252.6 1233.3 250 1235.2 245.8 1247.2 226 1260.7 200.6 1262.5 155.5 1259.2 142 1257.2 141.2ZM1287.2 179 1285.2 189.2 1284 200.6 1291.2 211.9 1293.2 212.7 1294 215.7 1295.2 217.6 1296.7 215.7 1291.8 200.6 1289.7 185.6Z"/>
<path fill="#106786" fill-rule="evenodd" d="M1015.6 17 1027.9 17 1024.8 65.2 1014.2 110.3 1001.5 127.5 999.5 129.3 997.5 129.1 993.5 126.1 990.5 126.1 990.5 47 993.5 47 1003.5 36.5 1009.5 29.1 1015.5 20.3ZM1068.5 17 1387 17 1385.3 65.2 1373.1 110.3 1371.1 111.7 1369.1 112.1 1367.1 114.1 1365.8 117.8 1361.1 120.5 1358.9 125.4 1355.1 127.4 1353.1 129.5 1351.9 132.9 1351.1 133.7 1347.1 135.8 1345.1 140.7 1341.2 142.6 1338.7 147.9 1337.2 149.3 1335.2 149.7 1333.2 152.5 1317.2 197.1 1316.2 200.6 1328.7 245.8 1330.8 290.9 1314 336.1 1309.2 341.6 1307.2 344.8 1303.2 348.7 1301.8 351.1 1299.2 353 1294.6 358.7 1289.2 364 1288.2 366.2 1283.2 371 1282.1 373.7 1279.2 376.9 1277.2 380.9 1225.3 381.2 1221.1 321 1219.3 312 1217.3 306.7 1215.3 303.5 1211.3 300 1207.3 303.7 1205.8 306 1203.3 312.6 1201.7 321 1200.3 336.1 1185.6 366.2 1183.3 369.6 1181.9 373.7 1179.3 377.5 1178.2 381.2 1175.3 384.3 1173 388.8 1169.3 392.5 1167.8 396.3 1165.3 398.6 1163.3 401.7 1162.6 403.8 1159.3 406.4 1157.4 411.3 1155.3 412.6 1153.3 415.3 1151.8 418.9 1149.3 421.8 1130.1 471.5 1107.4 513.1 1105.8 516.7 1105.8 519.7 990.5 519.7 990.5 294.1 993.5 294.1 997.5 287.1 1026.2 245.8 1050 200.6 1053.3 155.5 1047 110.3 1053.5 65.2 1068.5 20ZM1253.2 124 1250.4 132.9 1249.2 140.7 1248.2 155.5 1239.3 168.1 1238.3 170.5 1235.3 174 1233.6 178 1231.3 180.5 1228.7 185.6 1225.3 189.1 1224.1 193.1 1221.3 195.6 1219.7 200.6 1226.4 275.9 1227.3 278.9 1235.3 263 1242.9 245.8 1253.2 226.1 1255.2 221.3 1257.2 218.4 1261.7 208.1 1263.2 206.1 1265 200.6 1268 155.5 1267.2 143.8 1265.8 132.9 1263.2 124.6 1261.2 121.4 1259.2 119.4 1257.2 119.1ZM1287.2 162.2 1285.2 165.1 1283.2 172.4 1282.1 185.6 1281.6 200.6 1283.2 204.8 1286 208.1 1287.2 211 1303.2 234 1304.8 230.7 1294.9 200.6 1293.7 178 1292.4 170.5 1291.2 166.7 1289.2 163.5Z"/>
<path fill="#029137" fill-rule="evenodd" d="M1018.2 17 1026 17 1023.2 65.2 1012.5 110.3 1003.5 122.1 1001.5 124.4 999.5 125.6 993.5 121.2 990.5 121.2 990.5 52.7 993.5 52.7 1007.5 37.9 1013.5 29 1017.5 21.5 1018.2 20ZM1074.5 17 1258.1 17 1258.1 20 1252.5 65.2 1242.1 110.3 1231.3 131.1 1211.3 165.9 1203.7 178 1193.4 200.6 1193.4 245.8 1194.8 290.9 1187.3 311.6 1179.3 337.3 1161.3 370 1133.4 424.9 1115.4 471.5 1109.4 480.9 1097.4 497.3 1080.6 516.7 1080.6 519.7 990.5 519.7 990.5 298.5 993.5 298.5 999.5 288.1 1029.8 245.8 1054.2 200.6 1057.5 155.5 1052.9 110.3 1057.9 65.2 1074.5 20ZM1296.1 17 1360.7 17 1364.1 65.2 1353.1 105.3 1351.5 110.3 1349.1 114.4 1343.1 123.4 1331.2 138.9 1321.2 153.2 1319.2 160.7 1317.2 161.6 1316 155.5 1313.2 147.1 1311.2 142.4 1307.2 135.3 1305.2 133.5 1303.2 132.9 1289.2 132.9 1287.2 131.7 1285.2 128.3 1280.6 110.3 1291 65.2ZM1280.8 223.2 1283.2 221.6 1285.2 221.1 1287.2 221.8 1294.6 230.7 1305.5 245.8 1304.8 290.9 1290.3 336.1 1285.2 346.7 1283.2 348.9 1237.3 349 1235.3 348.2 1231.4 336.1 1231.4 290.9 1239.3 274.8 1241.3 272.7 1243.2 271.7 1253.2 268.5 1257.2 263.4 1261.2 256.3 1266 245.8 1269.2 230.7 1271.2 227.3Z"/>
<path fill="#0eaa19" fill-rule="evenodd" d="M1020.7 17 1024.1 17 1021.6 65.2 1010.5 110.3 1001.5 121 999.5 120.8 993.5 116.3 990.5 116.3 990.5 58.3 993.5 58.3 1003.5 49.3 1007.5 44.9 1011.5 38.7 1019.5 23.3 1020.7 20ZM1083.3 17 1244.6 17 1240.9 65.2 1230.4 110.3 1201.3 160.8 1191.3 184.1 1185.4 200.6 1185.4 245.8 1183.7 290.9 1171.6 336.1 1157.3 363.7 1129.4 422.8 1110.8 471.5 1087.4 497.8 1066.3 516.7 1066.3 519.7 990.5 519.7 990.5 302.8 993.5 302.8 999.5 292 1003.5 287.5 1006 283.4 1031.5 248.7 1058 200.6 1061.7 155.5 1061.7 110.3 1064.6 65.2 1083.3 20Z"/>
<path fill="#26bf08" fill-rule="evenodd" d="M1089.2 17 1236.5 17 1235.3 30 1230.1 65.2 1218.4 110.3 1209.3 123.6 1197.3 137.8 1181.3 155.5 1177.3 209.4 1172.6 245.8 1172.3 290.9 1161.9 336.1 1141.4 381.6 1119.4 424.5 1107.4 454.5 1101.8 471.5 1093.4 477.8 1083.4 481.9 1078.7 486.6 1072.4 494.1 1055.5 516.7 1055.5 519.7 990.5 519.7 990.5 307.2 993.5 307.2 999.5 296.8 1007.5 288.5 1037.5 245.8 1060.1 200.6 1065.8 155.5 1067.5 110.3 1071.1 65.2 1089.2 20ZM1018.2 35.1 1019.5 33.1 1020.1 35.1 1019.8 42.6 1018.3 65.2 1008.2 110.3 1003.5 115.9 1001.5 117.5 993.5 111.4 990.5 111.4 990.5 64 993.5 64 995.5 63.1 1001.5 59.7 1005.5 55.9 1011.5 46.5 1013.5 42Z"/>
<path fill="#52d102" fill-rule="evenodd" d="M1094.4 17 1223 17 1223 20 1215.8 65.2 1200.5 110.3 1189.3 121.6 1179.3 135.3 1169.3 152.4 1163.3 166.6 1159.3 173.8 1157.3 175.6 1145.3 182.1 1143.3 183.9 1139.4 190.4 1134.6 200.6 1141.4 217.2 1151.3 235.5 1155.6 245.8 1156.7 290.9 1148.9 336.1 1141.4 356.5 1133.3 381.2 1125.4 392.5 1117.4 401.8 1115.4 403.4 1096.7 426.4 1080 471.5 1051.4 513.3 1049.3 516.7 1049.3 519.7 990.5 519.7 990.5 311.6 993.5 311.6 997.5 304.2 999.5 301.8 1012.2 290.9 1025.5 270.8 1041.1 245.8 1061.9 200.6 1069.9 155.5 1071.6 110.3 1076.3 65.2 1094.4 20ZM1011.3 57.6 1013.5 54.3 1015.5 57 1015 65.2 1005.7 110.3 1003.5 112.7 1001.5 112.6 998.5 110.3 1005.2 72.7 1006.6 65.2Z"/>
<path fill="#8fe100" fill-rule="evenodd" d="M1098.7 17 1203.8 17 1203.8 20 1190.9 65.2 1181.3 90.5 1174.5 110.3 1167.3 121.4 1159.3 131.6 1153.3 137.7 1141.4 147.1 1134.4 155.5 1121 200.6 1129.4 228.3 1135.8 245.8 1140 290.9 1135.8 336.1 1125 381.2 1123.4 383.2 1121.4 384.6 1119.4 387.5 1111.4 394.1 1105.4 400.9 1089.4 424.1 1071.7 471.5 1045.4 514.7 1044.3 516.7 1044.3 519.7 990.5 519.7 990.5 315.9 993.5 315.9 997.5 308.9 999.5 306.8 1019.2 290.9 1043.4 246.7 1063.6 200.6 1073.1 155.5 1075.3 110.3 1081.3 65.2 1098.7 20Z"/>
<path fill="#d7f100" fill-rule="evenodd" d="M1102.5 17 1178.5 17 1178.5 20 1169 65.2 1156.2 110.3 1141.4 129 1123.3 155.5 1112.3 200.6 1119.2 245.8 1123.3 290.9 1123.3 336.1 1117.4 347.8 1109.4 360 1105.4 367.8 1080.4 426.4 1064.2 471.5 1039.3 516.7 1039.3 519.7 990.5 519.7 990.5 320.3 993.5 320.3 997.5 313.8 999.5 312 1025.8 290.9 1045.4 248.8 1065.2 200.6 1076.3 155.5 1079.1 110.3 1085.8 65.2 1102.5 20Z"/>
<path fill="#fcf800" fill-rule="evenodd" d="M1105.4 17 1158.3 17 1158.3 20 1152.3 65.2 1140.3 110.3 1131.4 125.5 1115 155.5 1104.8 200.6 1108.8 245.8 1109.4 290.9 1106.7 336.1 1099.4 354.2 1090.2 381.2 1073.4 425.5 1057.9 471.5 1035.5 514 1034.3 516.7 1034.3 519.7 990.5 519.7 990.5 324.7 993.5 324.7 995.5 321 997.5 318.9 1032.1 290.9 1065.4 204.7 1079.4 155.5 1083.4 110.3 1090.2 65.2 1105.4 20.1Z"/>
<path fill="#ffea00" fill-rule="evenodd" d="M1108.4 17 1150.2 17 1150.2 20 1142.8 65.2 1131.3 110.3 1129.4 115.4 1127.5 117.8 1125.4 122.7 1117.4 136.8 1107.4 153.3 1105.2 155.5 1100.6 178 1095.3 200.6 1098.9 245.8 1098.6 290.9 1095.2 336.1 1050.2 471.5 1029.5 512.9 1027.1 516.7 1027.1 519.7 990.5 519.7 990.5 444 993.5 444 999.7 426.4 1000.2 411.3 1001.5 404 1001.8 388.8 1002.7 381.2 993.5 372.4 990.5 372.4 990.5 329 993.5 329 995.5 326 997.5 324.2 1039.8 290.9 1052.3 245.8 1067.4 204.5 1083.3 155.5 1086.7 110.3 1087.4 106.3 1095.3 65.2 1108.4 20Z"/>
<path fill="#ffd000" fill-rule="evenodd" d="M1111.4 17 1146.7 17 1146.7 20 1138.9 65.2 1128 110.3 1115.4 129.9 1114.1 132.9 1111.4 136.4 1109.4 141 1107.4 143.1 1105.4 148.4 1103.4 150.4 1101.7 155.5 1098 170.5 1091.7 200.6 1094.8 245.8 1092.6 290.9 1089.3 336.1 1075.8 381.2 1044.8 471.5 1023.5 516.7 1023.5 519.7 990.5 519.7 990.5 466.5 993.5 466.5 996.4 456.5 1003.1 426.4 1006.5 381.2 1001.5 364.8 997.5 354.7 995.5 351.7 993.5 349.9 990.5 349.9 990.5 333.4 993.5 333.4 999.5 328 1019.5 313.2 1033.5 301.1 1044.2 290.9 1055 245.8 1073.4 196.5 1086.7 155.5 1089.8 110.3 1098.4 65.2 1111.4 20.2Z"/>
<path fill="#ffb000" fill-rule="evenodd" d="M1120.9 17 1129.1 17 1129.1 20 1119.4 65.2 1111.4 88.1 1109.8 80.2 1109.9 65.2 1120.9 20ZM1078.7 208.1 1079.4 206.8 1080.3 208.1 1086.6 245.8 1086.9 290.9 1083.5 336.1 1071.7 381.2 1039.6 471.5 1021.5 514 1020.4 516.7 1020.4 519.7 990.5 519.7 990.5 489.2 993.5 489.2 998.7 471.5 1001.5 456.5 1006.3 426.4 1009.6 381.2 1004.5 358.7 997.8 336.1 1005.5 330.7 1019.5 319 1048.3 290.9 1059.3 245.8 1067.4 228.4Z"/>
<path fill="#ff9000" fill-rule="evenodd" d="M1069.9 238.2 1073.4 232.9 1075 238.2 1076.3 245.8 1081.2 290.9 1077.8 336.1 1067.5 381.2 1035.5 468.8 1019.5 510.1 1017.1 516.7 1017.1 519.7 990.5 519.7 990.5 511.9 993.5 511.9 1001.5 486.4 1005.5 470.1 1012.7 381.2 1007.7 336.1 1045.4 298.1 1049.4 293.3 1052.4 290.9 1065.4 247.1Z"/>
<path fill="#ff7800" fill-rule="evenodd" d="M1064.8 260.8 1067.4 255.2 1069.4 255.6 1073.4 271.9 1076.7 290.9 1072.4 336.1 1062.9 381.2 1045.4 428.4 1029.5 475.2 1015.5 504.7 1009.5 513.5 1007.5 514.2 1005.8 509.2 1006 501.6 1012.9 426.4 1017.6 381.2 1012.9 336.1 1033.5 314.7 1035.5 311.8 1047.4 299.3 1049.4 296.5 1053.4 292.9 1054.8 290.9 1061.4 269.8Z"/>
<path fill="#fd5800" fill-rule="evenodd" d="M1062.2 275.9 1065.4 270 1067.4 270.7 1069.4 275.9 1072.5 290.9 1067 336.1 1058.1 381.2 1041.4 426.4 1028 471.5 1019.5 488.2 1015.5 494.1 1013.5 495 1012.1 494.1 1011.6 486.6 1012 471.5 1016.4 426.4 1023 381.2 1018.1 336.1 1037.4 313.5 1041.5 309.6 1043.9 306 1047.4 302.7 1051.4 297 1055.4 293.4Z"/>
<path fill="#fb3f00" fill-rule="evenodd" d="M1059.1 290.9 1063.4 285.6 1065.4 286.6 1067.9 290.9 1061.7 336.1 1053.4 380.2 1036.3 426.4 1024 471.5 1019.5 474.8 1017.5 474.1 1015.4 471.5 1016.9 464 1020.5 426.4 1028.6 381.2 1023.4 336.1 1027.5 332.2 1029.7 328.6 1033.5 324.8 1035.8 321 1039.5 317.3 1041.8 313.5 1045.4 309.8 1047.6 306 1049.4 304.8 1051.4 302.4 1053.4 298.5 1055.4 297.4 1057.4 295Z"/>
<path fill="#fa2a00" fill-rule="evenodd" d="M1051.8 313.5 1055.4 308.9 1057.4 307.6 1058.1 313.5 1056.1 336.1 1045.4 372.5 1039.5 389 1037.5 391.6 1037.1 388.8 1038.1 381.2 1033.8 336.1Z"/>
<path fill="#fc1500" fill-rule="evenodd" d="M1044.2 336.1 1047.4 332 1049.4 330.5 1050.6 336.1 1047.4 344.5 1045.4 346.1Z"/>
</g>
<path fill="none" stroke="#1a0d00" stroke-opacity="0.78" stroke-width="1" stroke-linejoin="round" d="M1024.1 17 1021.6 65.2 1010.5 110.3 1001.5 121 999.5 120.8 993.5 116.3 990.5 116.3M1244.6 17 1240.9 65.2 1230.4 110.3 1201.3 160.8 1191.3 184.1 1185.4 200.6 1185.4 245.8 1183.7 290.9 1171.6 336.1 1157.3 363.7 1129.4 422.8 1115.4 458.5 1110.8 471.5 1087.4 497.8 1081.4 503.6 1071.4 511.9 1066.3 516.7 1066.3 519.7M990.5 58.3 993.5 58.3 1003.5 49.3 1007.5 44.9 1011.5 38.7 1019.5 23.3 1020.7 20 1020.7 17M990.5 302.8 993.5 302.8 999.5 292 1003.5 287.5 1006 283.4 1031.5 248.7 1035.5 242.2 1058 200.6 1061.7 155.5 1061.7 110.3 1064.6 65.2 1083.3 20 1083.3 17M1150.2 17 1150.2 20 1142.8 65.2 1131.3 110.3 1129.4 115.4 1127.5 117.8 1125.4 122.7 1123.4 125.4 1117.4 136.8 1107.4 153.3 1105.2 155.5 1100.6 178 1095.3 200.6 1096.2 208.1 1098.9 245.8 1098.6 290.9 1095.2 336.1 1087.4 360.4 1050.2 471.5 1031 509.2 1029.5 512.9 1027.1 516.7 1027.1 519.7M990.5 329 993.5 329 995.5 326 997.5 324.2 1020.2 306 1031.5 297.5 1035.5 293.9 1039.8 290.9 1052.3 245.8 1067.4 204.5 1083.3 155.5 1086.7 110.3 1087.4 106.3 1095.3 65.2 1108.4 20 1108.4 17M990.5 444 993.5 444 999.7 426.4 1000.2 411.3 1001.5 404 1001.8 388.8 1002.7 381.2 993.5 372.4 990.5 372.4M1059.1 290.9 1063.4 285.6 1065.4 286.6 1067.9 290.9 1061.7 336.1 1053.4 380.2 1043.4 406.2 1036.3 426.4 1024 471.5 1019.5 474.8 1017.5 474.1 1015.4 471.5 1016.9 464 1020.5 426.4 1028.6 381.2 1023.4 336.1 1027.5 332.2 1029.7 328.6 1033.5 324.8 1035.8 321 1039.5 317.3 1041.8 313.5 1045.4 309.8 1047.6 306 1049.4 304.8 1051.4 302.4 1053.4 298.5 1055.4 297.4 1057.4 295 1059.1 290.9"/>
</g>
<path d="M1491 20V516.7" stroke="#334" stroke-opacity="0.35" stroke-width="1" fill="none"/>
<path d="M988.5 20H1491M988.5 516.7H1491" stroke="#181818" stroke-width="1.1" fill="none"/>
<path d="M988 20h5.5M988 65.2h5.5M988 110.3h5.5M988 155.5h5.5M988 200.6h5.5M988 245.8h5.5M988 290.9h5.5M988 336.1h5.5M988 381.2h5.5M988 426.4h5.5M988 471.5h5.5M988 516.7h5.5M1046.4 516.7v5.5M1109.9 516.7v5.5M1173.4 516.7v5.5M1237 516.7v5.5M1300.5 516.7v5.5M1364 516.7v5.5M1427.5 516.7v5.5M1491 516.7v5.5" stroke="#555" stroke-width="1.1" fill="none"/>
<text x="863.3" y="26" font-size="24.2" textLength="114" lengthAdjust="spacingAndGlyphs">December</text>
<text x="862.3" y="70.7" font-size="24.2" textLength="115" lengthAdjust="spacingAndGlyphs">November</text>
<text x="888.3" y="115.5" font-size="24.2" textLength="89" lengthAdjust="spacingAndGlyphs">October</text>
<text x="855.3" y="160.2" font-size="24.2" textLength="122" lengthAdjust="spacingAndGlyphs">September</text>
<text x="899.3" y="204.9" font-size="24.2" textLength="78" lengthAdjust="spacingAndGlyphs">August</text>
<text x="936.3" y="249.6" font-size="24.2" textLength="41" lengthAdjust="spacingAndGlyphs">July</text>
<text x="927.3" y="294.4" font-size="24.2" textLength="50" lengthAdjust="spacingAndGlyphs">June</text>
<text x="933.3" y="339.1" font-size="24.2" textLength="44" lengthAdjust="spacingAndGlyphs">May</text>
<text x="921.3" y="383.8" font-size="24.2" textLength="56" lengthAdjust="spacingAndGlyphs">April</text>
<text x="908.3" y="428.5" font-size="24.2" textLength="69" lengthAdjust="spacingAndGlyphs">March</text>
<text x="875.3" y="473.3" font-size="24.2" textLength="102" lengthAdjust="spacingAndGlyphs">February</text>
<text x="889.3" y="518" font-size="24.2" textLength="88" lengthAdjust="spacingAndGlyphs">January</text>
<text x="990.7" y="547.4" font-size="23" textLength="12.4" lengthAdjust="spacingAndGlyphs" stroke-width="0.15">0</text>
<text x="1039.4" y="547.4" font-size="23" textLength="12.4" lengthAdjust="spacingAndGlyphs" stroke-width="0.15">6</text>
<text x="1095.6" y="547.4" font-size="23" textLength="27" lengthAdjust="spacingAndGlyphs" stroke-width="0.15">12</text>
<text x="1159.1" y="547.4" font-size="23" textLength="27" lengthAdjust="spacingAndGlyphs" stroke-width="0.15">18</text>
<text x="1222.7" y="547.4" font-size="23" textLength="27" lengthAdjust="spacingAndGlyphs" stroke-width="0.15">24</text>
<text x="1286.2" y="547.4" font-size="23" textLength="27" lengthAdjust="spacingAndGlyphs" stroke-width="0.15">30</text>
<text x="1349.7" y="547.4" font-size="23" textLength="27" lengthAdjust="spacingAndGlyphs" stroke-width="0.15">36</text>
<text x="1413.2" y="547.4" font-size="23" textLength="27" lengthAdjust="spacingAndGlyphs" stroke-width="0.15">42</text>
<text x="1476.7" y="547.4" font-size="23" textLength="27" lengthAdjust="spacingAndGlyphs" stroke-width="0.15">48</text>
<text x="816.8" y="535.1" font-size="45" textLength="54" lengthAdjust="spacingAndGlyphs">(b)</text>
<clipPath id="cc"><rect x="266.3" y="622.7" width="499.2" height="498.3"/></clipPath>
<filter id="fcc" x="-5%" y="-5%" width="110%" height="110%"><feGaussianBlur stdDeviation="1.0"/></filter>
<g clip-path="url(#cc)"><g filter="url(#fcc)">
<rect x="263.3" y="619.7" width="505.2" height="504.3" fill="#14007c"/>
<path fill="#0a007a" fill-rule="evenodd" d="M263.3 619.7 768.5 619.7 768.5 1124 263.3 1124ZM286.3 743.1 284.3 745.1 279.8 758.7 280.3 775.2 285.9 758.7ZM300.2 681.5 295.3 713.3 295 720.9 296.3 728.8 300.9 713.3 301.3 690.7Z"/>
<path fill="#000078" fill-rule="evenodd" d="M263.3 619.7 291.2 619.7 295.3 668 288.7 713.3 282.3 733.1 275.3 758.7 272.7 788.9 270.8 804 272.3 806.9 274.3 808.4 277.3 804 286.3 776.9 294.3 757 300.2 736.1 305.3 713.3 307 668 305.2 645.4 302 622.7 302 619.7 768.5 619.7 768.5 1124 263.3 1124Z"/>
<path fill="#000094" fill-rule="evenodd" d="M263.3 619.7 282.9 619.7 282.9 622.7 288.7 668 282 713.3 270.8 758.7 266.3 788.9 263.3 788.9ZM315.3 619.7 768.5 619.7 768.5 1124 263.3 1124 263.3 813 266.3 813 270.3 820.9 272.3 820.9 281.2 804 292.3 777.2 301.4 758.7 309.8 713.3 312.2 663.8Z"/>
<path fill="#0000b0" fill-rule="evenodd" d="M263.3 619.7 274.6 619.7 274.6 622.7 282 668 276.6 713.3 266.3 758.7 263.3 758.7ZM328.3 619.7 768.5 619.7 768.5 1124 263.3 1124 263.3 831 266.3 831 268.3 834.7 270.3 833.2 280.3 814.1 306.6 758.7 314.2 713.3 317 668 320.2 651.3 328.2 623.3Z"/>
<path fill="#0000ca" fill-rule="evenodd" d="M331.5 619.7 768.5 619.7 768.5 1121 765.5 1121 765.5 1124 263.3 1124 263.3 849 266.3 849 276.3 831.3 298.2 784.2 309.1 758.7 318.5 713.3 321.9 668 331.5 622.7ZM263.3 630.3 263.3 622.7 266.3 622.7 270.3 640 275.7 668 272.5 713.3 266.3 740.5 263.3 740.5Z"/>
<path fill="#0000e2" fill-rule="evenodd" d="M334.4 619.7 768.5 619.7 768.5 1075.7 765.5 1075.7 763.7 1083.2 759.9 1105.9 758 1124 263.3 1124 263.3 858.1 266.3 858.1 272.6 849 278.3 837.9 298.2 791.7 311.6 758.7 321.3 713.3 325.3 668 334.4 622.7ZM263.3 660.5 263.3 652.9 266.3 652.9 269.5 668 268.4 713.3 266.3 722.4 263.3 722.4Z"/>
<path fill="#0000fa" fill-rule="evenodd" d="M337.2 619.7 768.5 619.7 768.5 1045.4 765.5 1045.4 761.5 1049.6 757.5 1057.5 755.5 1064.5 753.6 1075.7 749.7 1124 263.3 1124 263.3 867.1 266.3 867.1 278.9 849 288.3 826.2 314.1 758.7 324 713.3 328.7 668 337.2 622.7Z"/>
<path fill="#000ef0" fill-rule="evenodd" d="M339.5 619.7 768.5 619.7 768.5 1021.3 755.5 1021.4 731.6 1025.3 729.6 1026.3 725.3 1030.3 721.6 1044.9 715.6 1056.9 709.6 1063.9 703.6 1068 698.9 1075.7 694.9 1090.8 689.6 1102.4 683.6 1112.7 679.9 1121 679.9 1124 263.3 1124 263.3 876.2 266.3 876.2 276.3 861.6 282.3 850.4 316.1 758.7 325.7 713.3 330.9 668 339.5 622.7Z"/>
<path fill="#001ce6" fill-rule="evenodd" d="M341.3 619.7 768.5 619.7 768.5 1003.1 761.5 1003.1 747.5 1010.1 733.6 1015.2 727.6 1020.6 718.7 1030.3 713.6 1041.2 701.6 1058.2 695.6 1068.8 673.6 1119.7 673.1 1121 673.1 1124 263.3 1124 263.3 885.3 266.3 885.3 270.3 879.4 274.3 872.4 284.7 849 301.7 804 317.7 758.7 327 713.3 332.3 668 341.3 622.7Z"/>
<path fill="#022bd7" fill-rule="evenodd" d="M343.1 619.7 768.5 619.7 768.5 985 765.5 985 761.5 989 753.5 995.3 747.5 999.1 737.5 1004.3 733.6 1007.2 725.6 1015 712 1030.3 707.6 1037.3 701.6 1042.4 697.6 1047.1 695.6 1050.2 691.6 1059 686.4 1075.7 683.6 1082.3 681.6 1086.4 675.6 1095.5 670.8 1105.9 665.8 1121 665.8 1124 263.3 1124 263.3 894.3 266.3 894.3 286.4 849 303.7 804 319.2 758.7 328.1 713.3 333.7 668 343.1 622.7Z"/>
<path fill="#053bc3" fill-rule="evenodd" d="M344.9 619.7 768.5 619.7 768.5 954.8 765.5 954.8 753.3 985 737.5 996 731.6 1001 711.6 1023.1 709.6 1024.6 707.6 1025.4 699.6 1026.6 663.1 1030.3 660 1053 658.3 1060.6 657.7 1063.2 653.7 1071.2 633.7 1091.6 629.7 1097.7 625.7 1107.5 621.7 1112.8 617.7 1116.8 611.7 1120.6 611.4 1124 263.3 1124 263.3 898.9 266.3 898.9 288.2 849 305.7 804 320.8 758.7 329.2 713.3 335 668 344.9 622.7Z"/>
<path fill="#084baf" fill-rule="evenodd" d="M346.7 619.7 768.5 619.7 768.5 930.6 765.5 930.6 757.5 952.4 751.5 966.8 747.5 974.8 741.3 985 733.6 991 713.6 1012.9 709.6 1015.2 705.6 1016.2 685.6 1019.7 665.7 1022.2 661.7 1024.2 654.2 1030.3 649.7 1042.1 645.7 1049.1 641.7 1053.7 635.7 1059.3 631.7 1065.7 621.7 1087.9 611.7 1106.1 605.3 1121 605.3 1124 263.3 1124 263.3 903.4 266.3 903.4 290 849 307.7 804 322.3 758.7 330.3 713.3 336.3 668 346.7 622.7Z"/>
<path fill="#0d5d96" fill-rule="evenodd" d="M348.4 619.7 768.5 619.7 768.5 912.5 765.5 912.5 751.5 948.7 747.5 956.5 737.5 973 732 985 717.6 1001.1 713.6 1004.4 709.6 1006.1 689.6 1010.7 669.7 1013.7 665.7 1014.9 644.5 1030.3 635.7 1043.3 627.7 1059.1 607.8 1102.6 600.3 1121 600.3 1124 263.3 1124 263.3 907.9 266.3 907.9 291.8 849 309.7 804 323.9 758.7 331.4 713.3 337.7 668 348.4 622.7Z"/>
<path fill="#126e7d" fill-rule="evenodd" d="M350.2 619.7 768.5 619.7 768.5 894.3 765.5 894.3 763.5 898.1 758.6 909.4 747 939.7 735.5 960.7 729.6 974 725.3 985 719.6 991.4 715.6 994.8 707.6 997.7 691.6 1002 671.7 1005.6 667.7 1006.9 643.7 1022.1 639.7 1025.1 634.2 1030.3 627.7 1042.9 619.7 1060.6 595.8 1116.9 594.2 1121 594.2 1124 263.3 1124 263.3 912.5 266.3 912.5 293.6 849 311.7 804 324.2 763 325.4 758.7 331.6 720.9 339 668 350.2 622.7Z"/>
<path fill="#00962d" fill-rule="evenodd" d="M352.1 619.7 768.5 619.7 768.5 881.4 765.5 881.4 761.5 885.5 755.2 894.3 749.5 904.6 743.5 918.6 736.8 939.7 731.6 948.9 727.6 957.8 718.1 985 709.6 988.3 693.6 993.4 671.7 998.1 665.7 1000.7 643.7 1012.7 635.7 1019.3 625.3 1030.3 617.7 1047 606.7 1075.7 601.8 1085.5 595.8 1099.3 587.9 1121 587.9 1124 263.3 1124 263.3 917 266.3 917 300.2 837.7 312.2 808.8 324.2 770.6 327.7 758.7 329.1 751.1 329.9 743.6 331.4 736 332 728.4 333.6 720.9 334.2 712.6 335.8 705.8 336.2 698.1 337.9 690.7 338.2 685.5 340.8 668 348.9 637.8 352.1 622.7Z"/>
<path fill="#0da81b" fill-rule="evenodd" d="M358.7 619.7 747.5 619.7 747.5 622.7 768.5 622.7 768.5 637.8 747.5 637.8 747.5 660.5 745.5 668 735.5 668 734.8 675.6 729.6 696.7 727.6 702.8 722.8 713.3 721.3 720.9 717.6 731 713.6 738.2 708.5 743.6 703.6 746.8 697.6 747.3 695.6 748.9 691.2 758.7 695.6 766.7 697.6 767.7 709.6 768.1 713.6 770.2 717.7 773.8 721.6 779.3 723.6 783.8 727.8 796.4 729.6 804 768.5 804 768.5 868.4 765.5 868.4 760.9 871.7 755.5 876.9 745.5 885.2 737.6 894.3 729.6 916.2 721.6 940.2 707.6 962.1 695.2 985 671.7 990.6 655.7 996.7 645.7 1001.6 639.7 1005.7 631.7 1012.7 623.7 1021 616 1030.3 607.8 1050 595.7 1075.7 591.8 1085 577.6 1121 577.6 1124 402 1124 401.7 1113.4 400.8 1105.9 398.1 1100.3 389.5 1121 389.5 1124 263.3 1124 263.3 921.5 266.3 921.5 284.3 879.6 306.2 830 318.3 804 326.2 780.4 334.3 758.7 347.7 668 358.7 622.7Z"/>
<path fill="#19b90a" fill-rule="evenodd" d="M365.3 619.7 734.2 619.7 730.9 668 727.6 679.6 725.6 683.1 721.6 686.9 717.6 693.2 712.9 705.8 711.2 713.3 705.6 723 703.6 724.5 697.6 725.2 693.8 728.4 691.6 731.4 689.6 735.8 682.8 758.7 685.6 767.6 688.3 773.8 691.6 779.4 695.6 784 697.6 785.6 709.6 785.9 711.6 787.4 713.6 790.1 719.6 801.9 723.6 816.6 727.6 824.9 729.6 826.6 747.5 829.8 765.5 834 768.5 834 768.5 855.5 765.5 855.5 761.5 856.9 743.5 865.9 735.8 871.7 729.6 878.1 721.6 884.2 715.6 889.9 712 894.3 708.5 901.9 701.6 917.8 693.1 939.7 671.7 973.2 667.7 978.7 662 985 651.7 988.3 645.7 990.8 635.7 997.6 627.7 1004.6 621.7 1010.7 609.7 1025.6 606.7 1030.3 597.8 1049.6 584.3 1075.7 567.2 1121 567.2 1124 415.3 1124 416.7 1098.3 418.7 1075.7 410.1 1066.4 406.1 1064.1 404.1 1065 400.1 1072.3 392.1 1093 377.8 1121 377.8 1124 263.3 1124 263.3 926.1 266.3 926.1 282.3 889 302.2 845.5 323 804 332.2 780 341.7 758.7 355 668 365.3 622.7Z"/>
<path fill="#3cc805" fill-rule="evenodd" d="M372.3 619.7 708.7 619.7 708.7 622.7 706.5 637.8 700.5 675.6 697.6 685.6 693.6 696.5 675.3 758.7 677.6 789.8 678.6 796.4 679.6 804 681.6 804 681.6 849 685.6 849 686.7 856.6 686.7 894.3 670 939.7 661.7 953.8 653.7 963.8 647.7 970.2 635.3 985 623.7 994.4 613.7 1004.9 603.8 1018.6 597.8 1028.3 581.8 1059.4 574.7 1075.7 563.8 1105.7 559 1121 559 1124 427 1124 432 1075.7 428 1062.6 426 1059.6 416.1 1048.8 412.1 1046.7 406.1 1047.7 404.1 1049.8 400.1 1055.9 374.1 1106.3 368.3 1121 368.3 1124 263.3 1124 263.3 930.6 266.3 930.6 282.3 893.9 296.3 864.2 314.2 828.6 328.1 804 336.2 785.2 348.7 758.7 362 668 372.3 622.7Z"/>
<path fill="#5fd700" fill-rule="evenodd" d="M379.7 619.7 702 619.7 702 622.7 695.3 668 668.7 758.7 667.8 804 670.3 849 669.3 894.3 652.7 939.7 639.7 956.7 623.7 976.3 609.7 990.9 605.8 995.8 599.8 1003.9 591.8 1017.8 577.8 1047.7 567.8 1072.5 557.8 1103.7 553 1121 553 1124 437 1124 438.7 1075.7 436 1058.1 432.7 1045.4 430 1039.3 428 1036.1 422.3 1030.3 416.1 1028 414.1 1028.1 408.7 1030.3 402.1 1035 394.1 1044.1 388.1 1053.1 382.1 1065.5 378.3 1075.7 370.1 1094.4 362.1 1117.3 361 1121 361 1124 263.3 1124 263.3 935.1 266.3 935.1 284.2 894.3 294.3 873.7 316.2 832.1 333.7 804 344.2 781.2 355.3 758.7 368.7 668 379.7 622.7Z"/>
<path fill="#96e200" fill-rule="evenodd" d="M387.2 619.7 502.7 619.7 503.9 638.2 505.9 648.8 507.9 653.8 509.9 651.4 511.1 645.4 512.7 619.7 695.2 619.7 695.2 622.7 688.5 668 667.7 737.7 661.9 758.7 657 804 661.9 849 659.7 862.7 656 879.2 650.1 901.9 643.7 920.9 639.7 930.8 635.5 939.7 627.7 952.3 619.7 963.1 611.7 971.9 603.8 979 595.6 985 583.8 1012.8 569.8 1042.6 563.8 1058.4 557.8 1076.6 553.8 1086 547.8 1110 546.3 1124 447.4 1124 445.7 1075.7 447.2 1053 450.2 1030.3 430 1021.9 416.1 1017.4 414.1 1017.3 382.1 1030.3 376.1 1051.2 364.1 1085.3 354.2 1119.5 353.8 1124 263.3 1124 263.3 939.7 266.3 939.7 286.3 894.3 298.2 871.2 310.2 849.2 339.5 804 352.2 779.6 362 758.7 375.5 668 387.2 622.7ZM476 749.4 473.1 758.7 478 759.9 484.2 758.7 480 746.1 478 744.9Z"/>
<path fill="#d2f000" fill-rule="evenodd" d="M397 619.7 479.1 619.7 475.8 668 470 681.7 464 699.5 460.1 713.3 454 741.5 449.1 758.7 462 787.8 474 789 478 788.2 485.9 780.8 491.9 776.3 508.2 758.7 515.9 739.6 523.9 713.3 532.7 668 528.5 619.7 684.2 619.7 679.8 668 653.1 758.7 647 804 650.9 849 642 894.3 625.3 939.7 615.7 952.7 609.7 959.6 597.8 971.2 587 985 577.8 1005.1 573.8 1012.1 563.8 1026.9 553.8 1048.1 547.8 1056.5 541.9 1063.5 535.9 1069.5 528.6 1075.7 515.9 1119 513.9 1121 470 1121 468 1114.2 464.9 1090.8 462 1075.7 462 1030.3 456.2 1022.8 450 1016.9 434 1011.4 414.1 1006.6 404.1 1010.3 388.1 1018.6 384.1 1022 377.6 1030.3 370.1 1050.7 359.2 1075.7 352.2 1104 348.7 1121 348.7 1124 263.3 1124 263.3 945.7 266.3 945.7 268.3 939.3 288.2 894.3 302.2 869.4 330.2 827.1 338.2 816 347.8 804 356.2 786.9 368.7 758.7 377.6 713.3 384.2 668 397 622.7Z"/>
<path fill="#fafa00" fill-rule="evenodd" d="M405.3 619.7 468.7 619.7 466.7 637.8 462 668 444 733 437.6 758.7 444 778 455.3 804 460 809.2 462 810.6 474 810.1 476 809.5 478 807.8 482 804 511.9 769.6 519.5 758.7 529.9 721.8 542.8 668 540.3 619.7 673.1 619.7 670.9 668 653.7 730.8 647.7 747.6 642 758.7 638.7 804 639.8 849 632 894.3 615.3 939.7 601.8 955.2 579.8 983.4 569.8 992.4 563.8 999.4 553.8 1015 546.4 1030.3 539.9 1039.6 533.9 1046.9 525.9 1054.6 511.9 1061 507.9 1063.6 501.9 1068.5 495.9 1074.9 493.9 1073.8 489.9 1069.4 485.9 1063.1 480 1048.6 475.3 1030.3 470 1021.1 462 1012 454 1005.6 448 1002.5 426 997.8 416.1 996.1 412.1 996 406.1 998.7 390.1 1009.3 382.1 1018 373.1 1030.3 362.1 1055.1 351.4 1075.7 344.8 1113.4 343.7 1124 263.3 1124 263.3 951.8 266.3 951.8 269.9 939.7 290.1 894.3 292.3 890.5 308.2 865.5 321.4 849 338.2 825.3 355.3 804 375.3 758.7 385.3 713.3 392 668 405.3 622.7Z"/>
<path fill="#fff500" fill-rule="evenodd" d="M412 619.7 458.9 619.7 458.9 622.7 454 648.6 449.1 668 428.9 758.7 436 781.9 442 804 456 820.6 460 823.5 462 823.6 474 822.5 476 821.7 482 817.6 487.9 812.4 491.9 808.2 511.9 783.8 519.9 772 527.8 758.7 539.9 708.5 551.2 668 552 619.7 661.7 619.7 662.1 668 652 713.3 647.7 725.6 641.7 739.2 635.7 749.5 629.7 757.2 627.8 758.7 629.7 771.8 632 804 629 849 622 894.3 613.7 918.1 605.4 939.7 581.8 969.5 559.8 978.2 545.6 985 533.9 1017.4 529.9 1027.4 527.9 1030.3 489.9 1030.3 487.9 1029.2 482 1020.3 476 1003.2 474 999.8 468 995.6 458 991.4 450 989.3 412.1 985 394.1 998.1 386.1 1006.4 378.1 1016.3 368.6 1030.3 356.2 1054.9 343.9 1075.7 338.7 1124 263.3 1124 263.3 957.8 266.3 957.8 271.7 939.7 292.3 894 308.2 870.7 327 849 340.2 831.3 361.9 804 370.1 784.1 381.9 758.7 392 713.3 398.6 668 412 622.7Z"/>
<path fill="#ffe400" fill-rule="evenodd" d="M416.2 619.7 452 619.7 452 622.7 442.8 668 432 713.3 422.8 758.7 435.3 804 440 816.6 444 824.2 446 826.3 456 836.4 460 837.2 464 836 472 835.1 476 834.1 485.9 829.2 493.9 823.4 499.9 816.5 507 804 515.9 792.5 527.9 775.1 531.9 767.8 535.9 758.7 544.4 713.3 557.6 668 562 619.7 587.7 619.7 585.6 668 581.8 681.6 577.8 689.8 572.4 705.8 563.8 736.2 558.4 758.7 561.8 773.4 563.8 776 583.8 778.1 599.8 775.7 601.8 775.9 615.7 780.3 617.7 782.2 621 788.9 625.1 804 622.8 849 617.7 876.5 613.7 894.3 597 939.7 585.8 953.7 583.8 955.1 565.8 960.4 547.8 967 539.9 973.6 533.9 980.1 530.3 985 527.3 992.6 523.9 998.6 519.9 1003.6 515.9 1007.2 495.9 1010.1 489.9 1009.2 487.9 1008.4 484 1005.1 482 1001.8 479.3 992.6 476 977.5 474 971.7 466 961.2 462.8 954.8 460 947.2 458 940.4 450 900.6 448 898.5 438 926.8 430 944.9 426 951.7 424 954.4 416.1 961.4 401.2 985 396.1 988.8 388.1 996.3 376.1 1011.7 363.7 1030.3 339.5 1075.7 333.7 1121 333.7 1124 269.9 1124 271.6 1075.7 271 1030.3 266.3 1024.7 263.3 1024.7 263.3 963.8 266.3 963.8 273.5 939.7 294.7 894.3 306.2 878.5 332.8 849 355.8 819 366.2 804 386.2 758.7 397 713.3 403.7 668 416.1 623.1ZM638.1 645.4 639.7 643.8 643.7 642.1 647.7 644.2 649.7 646.7 651.7 651.6 653.7 658.8 655.3 668 645.3 713.3 637.7 730.1 633.7 734.9 631.7 736.4 629.7 736.7 627.7 731.2 626.5 720.9 626 713.3 626.6 698.2 629.3 675.6 631.7 662.2 634.3 652.9Z"/>
<path fill="#ffcd00" fill-rule="evenodd" d="M420.5 619.7 445.2 619.7 445.2 622.7 436.7 668 432 684 426.7 705.8 422.1 728.8 416.9 758.7 424 790.4 435 826.5 438 833.4 442 839.8 446 844.3 452 849 448 857 445.7 864.1 442.4 879.2 440.2 894.3 428 917.1 418.8 939.7 404.1 964 390.4 985 380.1 997.9 366.1 1018.2 358.9 1030.3 342.2 1063.5 335.1 1075.7 329.4 1113.4 328.4 1124 301.1 1124 301.1 1121 300.2 1119 298.2 1118.6 297.8 1124 277 1124 278.3 1108 281.9 1075.7 280.3 1030.3 266.3 1013.3 263.3 1013.3 263.3 969.9 266.3 969.9 275.4 939.7 297.7 894.3 338.6 849 354.2 828 370.3 804 390.4 758.7 402 713.3 408.8 668 418.8 630.3 420.5 622.7ZM572 619.7 581.9 619.7 581.8 624.1 576.8 668 570.9 683.1 566.3 698.2 563.5 713.3 559.8 725.1 554.4 751.1 553.3 758.7 554.4 773.8 557.1 788.9 559.8 795.7 561.8 798.1 563.8 799.4 585.8 801.4 595.8 796.7 601.8 794.8 609.7 798.8 617.7 803.8 616.2 849 612.8 856.6 610.1 864.1 607.8 873.9 604.4 894.3 597.8 900.5 595.8 903.5 593.7 909.4 590 924.6 588 939.7 567.8 944.2 551.8 948.5 539.9 953.8 531.9 958.9 523.9 967.3 519.9 973.5 514.5 985 495.9 989.9 493.9 989.6 482.4 985 480.6 969.9 477.9 954.8 476 947.3 474 943 470.8 939.7 469.1 924.6 466.7 909.4 465 901.9 462 894.3 462 849 476 846.9 487.9 843.9 495.9 840.8 501.9 836.4 507.9 829.7 511.9 823.1 515.9 813.5 519.1 804 523.9 799.9 527.9 795.5 533.9 785.9 539.9 772.4 545.5 751.1 548.6 728.4 549.6 713.3 553.8 701.3 561.1 675.6 562.4 668 566.3 652.9 569.5 637.8 572 622.7ZM639.1 668 643.7 662.8 647.7 666.9 648.2 668 643.7 683.3 641.7 693.1 639.7 693.7 638.6 698.2 637.9 713.3 633.7 715.3 629.7 713.8 629.6 713.3 635.7 701.3 636.7 698.2 638.5 683.1Z"/>
<path fill="#ffb400" fill-rule="evenodd" d="M428.1 619.7 436.4 619.7 436.4 622.7 430 649.9 428.2 652.9 426 658 424.8 668 417.6 705.8 409.5 758.7 416.1 806.5 422.1 829 428.8 849 422 894.3 416.1 912.8 409.3 939.7 396.1 961 383 985 374.1 997.2 368.1 1006.6 364.1 1013.6 350.2 1042 340.2 1060 328.7 1075.7 324 1098.3 317.6 1121 317.6 1124 308.4 1124 308.4 1121 294.3 1089.5 292.3 1087.2 291.7 1090.8 291.7 1124 284.8 1124 288.7 1075.7 286.3 1030.3 272.3 1009.3 266.3 1002 263.3 1002 263.3 975.9 266.3 975.9 277.3 939.7 288.3 917.8 296.3 903.9 300.2 898 322.2 874.4 342.2 851.2 356.2 832 373.7 804 386.1 777 396.2 758.7 408.7 713.3 415.3 668 420.1 650.4 422.1 645.3 424 647.5 426 641.5ZM510.3 886.8 511.9 882.9 515.9 884.3 517.9 885.8 519.9 888.4 522 894.3 516.6 901.9 511.9 907.3 509.5 901.9 507.3 894.3Z"/>
<path fill="#ff9800" fill-rule="evenodd" d="M397 766.2 402.1 759 408.7 804 410.9 849 408.7 894.3 404.1 916.1 400 939.7 392.1 953.2 375.7 985 370.1 994.2 362.1 1010.4 353.3 1030.3 346.2 1043.3 332.2 1063.8 322 1075.7 312.2 1110.8 310.2 1110.3 304.2 1097.7 295.2 1075.7 292.3 1030.3 284.3 1019.6 268.3 993.1 266.3 990.7 263.3 990.7 263.3 982 266.3 982 279.3 939.7 292.3 915.3 298.2 906.8 322.2 881.2 350.2 847.9 362.1 829.3 376.1 805.6 386.1 785.3Z"/>
<path fill="#ff8400" fill-rule="evenodd" d="M397.5 773.8 398.1 773 400.1 774.3 403.5 804 400.3 849 398.3 894.3 391.7 939.7 374.1 974.1 360.1 1005.8 350.1 1030.3 336.2 1051.5 330.2 1058.7 322.2 1066.9 316.2 1075.5 310.2 1097.4 300.7 1075.7 297 1030.3 292.3 1022.9 286.3 1015.3 278.3 1003.6 267.8 985 274.3 964.4 281 939.7 290.3 922.9 294.3 916.8 306.2 905.7 314.2 897.3 338.2 869.2 352.2 851.7 370.1 821.9 390.1 785.4Z"/>
<path fill="#ff7000" fill-rule="evenodd" d="M392.5 788.9 394.1 787.1 396.1 785.8 397.9 788.9 399.7 804 396.2 856.6 393.4 879.2 384.3 939.7 370.1 970.1 356.2 1004.3 346.4 1030.3 336.2 1044.6 332.2 1047.7 326.2 1050.8 324.2 1053 322.9 1045.4 323 1037.9 322.2 1035.4 320.2 1039.8 314.2 1060.4 310.2 1079.1 308.2 1080.8 306 1075.7 300.3 1030.3 290.3 1012.8 280.3 1000.3 270.7 985 276.3 964.9 282.4 939.7 287 932.1 292.3 925.7 304.2 915.2 314.2 904.7 340.2 873.6 350.2 860.5 360.1 845.4 374.1 821.5 388.1 795.8Z"/>
<path fill="#fd5500" fill-rule="evenodd" d="M387.5 804 392.1 799 394.1 799.2 395.9 804 393.3 849 384.1 893.1 383.3 901.9 377.6 939.7 364.1 973.7 358.5 985 354.2 995.1 348.2 1011.4 342.3 1030.3 338.2 1032.8 336.2 1031.6 332.2 1025.2 330.2 1023.2 326.2 1020.7 324.2 1020.7 310.3 1030.3 308.2 1040 306.2 1039.8 304.1 1030.3 302.2 1026.1 294.3 1011.8 284.3 996.2 274.1 985 281.4 954.8 284.2 939.7 286.3 938.6 298.2 928.9 308.2 919.4 320.2 906.2 326.2 898.8 328.8 894.3 340.2 881.4 350.2 867.9 360.1 853 362.1 848.9 364.1 846.6 378.1 822.6Z"/>
<path fill="#fb4100" fill-rule="evenodd" d="M383 826.5 384.1 824.6 385.4 826.5 386.2 849 384.2 864.1 381.6 894.3 374.1 941.6 368.1 956.5 362.1 968.8 358.2 974.8 354.2 979.7 348.7 985 344.2 997.3 340.2 1005.7 332.2 1008.6 326.2 1009.6 314.2 1018.4 308.2 1020.9 306.2 1018.8 304.2 1013.9 293.8 1000.1 283.7 985 290.3 959 295.9 939.7 310.2 927.9 314.2 924.1 320.2 919.6 326.2 913.6 332.2 905.2 338 894.3 346.2 883.5 370.1 849.3Z"/>
<path fill="#fa3000" fill-rule="evenodd" d="M374 856.6 376.1 853.2 378.1 853.1 379 864.1 379.5 894.3 372.1 940.8 366.1 953.2 360.1 963.2 356.2 968 340.2 983.1 336.2 989.8 332.2 994.9 320.2 1005.1 314.2 1009.2 310.2 1009.7 308.2 1009.2 302.2 994.2 295.3 985 300.2 968.9 306.2 953.3 308.2 949.1 312.2 944.1 322.2 938.1 326.2 935.1 330.2 930.6 336.2 919.1 347.3 894.3 362.1 874.1Z"/>
<path fill="#fa2000" fill-rule="evenodd" d="M373 871.7 376.1 866.2 377.4 894.3 369.4 939.7 364.1 949.5 360.1 954.4 350.2 962.3 340.2 967 338.2 966.2 337 939.7 357.6 894.3 370.1 876.8ZM313.1 962.3 318.2 958.1 324.2 959.7 328.2 963.6 330.2 967.6 330.9 977.4 330.7 985 330.2 985.6 322.2 994.3 316.2 998.7 314.2 999.4 310.2 998.1 308.2 995.7 304.4 985 308.2 971.4 310.2 966.4Z"/>
<path fill="#fd0f00" fill-rule="evenodd" d="M371.3 886.8 374.1 881 375.1 894.3 366.1 938 365.6 939.7 356.2 946.1 354.2 946.8 352.2 945.6 350.2 943.4 348.1 939.7 354.2 929.3 358.2 921.3 364.1 912.4 366.1 906.7 368.3 894.3ZM315.6 977.4 316.2 976.8 318.2 977.6 322.5 985 316.2 989.5 314.2 988.9 309.8 985 312.2 981.2Z"/>
</g>
<path fill="none" stroke="#1a0d00" stroke-opacity="0.78" stroke-width="1" stroke-linejoin="round" d="M768.5 881.4 765.5 881.4 761.5 885.5 755.2 894.3 749.5 904.6 743.5 918.6 736.8 939.7 731.6 948.9 727.6 957.8 718.1 985 709.6 988.3 693.6 993.4 671.7 998.1 665.7 1000.7 649.7 1009.1 643.7 1012.7 635.7 1019.3 625.3 1030.3 617.7 1047 606.7 1075.7 601.8 1085.5 595.8 1099.3 587.9 1121 587.9 1124M263.3 917 266.3 917 300.2 837.7 312.2 808.8 324.2 770.6 327.7 758.7 329.1 751.1 329.9 743.6 331.4 736 332 728.4 333.6 720.9 334.2 712.6 335.8 705.8 336.2 698.1 337.9 690.7 338.2 685.5 340 675.6 340.8 668 348.9 637.8 352.1 622.7 352.1 619.7M502.7 619.7 503.9 638.2 505.9 648.8 507.9 653.8 509.9 651.4 511.1 645.4 512.3 630.3 512.7 619.7M695.2 619.7 695.2 622.7 688.5 668 667.7 737.7 661.9 758.7 657 804 661.9 849 659.7 862.7 656 879.2 650.1 901.9 643.7 920.9 639.7 930.8 635.5 939.7 627.7 952.3 619.7 963.1 611.7 971.9 603.8 979 595.6 985 583.8 1012.8 573.8 1033.4 569.8 1042.6 563.8 1058.4 557.8 1076.6 553.8 1086 547.8 1110 546.3 1121 546.3 1124M476 749.4 473.1 758.7 478 759.9 484.2 758.7 482 751.1 480 746.1 478 744.9 476 749.4M263.3 939.7 266.3 939.7 286.3 894.3 298.2 871.2 310.2 849.2 339.5 804 352.2 779.6 362 758.7 375.5 668 387.2 622.7 387.2 619.7M447.4 1124 445.7 1075.7 447.2 1053 450.2 1030.3 442 1026.6 430 1021.9 416.1 1017.4 414.1 1017.3 382.1 1030.3 376.1 1051.2 367.2 1075.7 364.1 1085.3 354.2 1119.5 353.8 1124M445.2 619.7 445.2 622.7 436.7 668 432 684 426.7 705.8 422.1 728.8 416.9 758.7 424 790.4 435 826.5 438 833.4 442 839.8 446 844.3 452 849 448 857 445.7 864.1 442.4 879.2 440 894.8 434 905.2 428 917.1 422.1 930.9 418.8 939.7 404.1 964 390.4 985 380.1 997.9 366.1 1018.2 358.9 1030.3 342.2 1063.5 335.1 1075.7 329.4 1113.4 328.4 1124M581.9 619.7 581.8 624.1 576.8 668 570.9 683.1 566.3 698.2 564.6 705.8 563.5 713.3 559.8 725.1 554.4 751.1 553.3 758.7 554.4 773.8 557.8 791.5 560.4 796.4 561.8 798.1 563.8 799.4 583.8 801.5 585.8 801.4 595.8 796.7 601.8 794.8 609.7 798.8 617.7 803.8 616.2 849 612.8 856.6 610.1 864.1 607.8 873.9 605.8 888 604.4 894.3 597.8 900.5 595.8 903.5 593.7 909.4 590 924.6 588 939.7 567.8 944.2 551.8 948.5 539.9 953.8 531.9 958.9 523.9 967.3 519.9 973.5 515.9 982.9 514.5 985 495.9 989.9 493.9 989.6 482.4 985 480.6 969.9 477.9 954.8 476 947.3 474 943 470.8 939.7 469.1 924.6 466.7 909.4 465 901.9 462 894.3 462 849 476 846.9 487.9 843.9 495.9 840.8 501.9 836.4 507.9 829.7 511.9 823.1 515.9 813.5 519.1 804 523.9 799.9 527.9 795.5 533.9 785.9 539.9 772.4 541.9 766.2 545.5 751.1 548.6 728.4 549.6 713.3 553.8 701.3 559.8 678.9 561.1 675.6 562.4 668 566.3 652.9 569.5 637.8 572 622.7 572 619.7M639.1 668 639.7 666.8 643.7 662.8 647.7 666.9 648.2 668 643.7 683.3 641.7 693.1 639.7 693.7 638.6 698.2 637.9 713.3 633.7 715.3 629.7 713.8 629.6 713.3 635.7 701.3 636.7 698.2 638.5 683.1 639.1 668M263.3 969.9 266.3 969.9 275.4 939.7 286.3 916.8 297.7 894.3 338.6 849 354.2 828 370.3 804 390.4 758.7 402 713.3 408.8 668 418.8 630.3 420.5 622.7 420.5 619.7M277 1124 278.3 1108 281.9 1075.7 280.3 1030.3 266.3 1013.3 263.3 1013.3M301.1 1124 301.1 1121 300.2 1119 298.2 1118.6 297.8 1124M387.5 804 392.1 799 394.1 799.2 395.9 804 393.3 849 384.1 893.1 383.3 901.9 377.6 939.7 364.1 973.7 358.5 985 354.2 995.1 348.2 1011.4 342.3 1030.3 338.2 1032.8 336.2 1031.6 332.2 1025.2 330.2 1023.2 326.2 1020.7 324.2 1020.7 310.3 1030.3 308.2 1040 306.2 1039.8 304.1 1030.3 302.2 1026.1 294.3 1011.8 284.3 996.2 274.1 985 281.4 954.8 284.2 939.7 286.3 938.6 298.2 928.9 308.2 919.4 320.2 906.2 326.2 898.8 328.8 894.3 332.2 891 340.2 881.4 350.2 867.9 360.1 853 362.1 848.9 364.1 846.6 378.1 822.6 387.5 804M371.3 886.8 374.1 881 375.1 894.3 366.1 938 365.6 939.7 356.2 946.1 354.2 946.8 352.2 945.6 350.2 943.4 348.1 939.7 354.2 929.3 358.2 921.3 364.1 912.4 366.1 906.7 366.7 901.9 368.3 894.3 371.3 886.8M315.6 977.4 316.2 976.8 318.2 977.6 322.5 985 316.2 989.5 314.2 988.9 310.2 985.8 309.8 985 312.2 981.2 315.6 977.4"/>
</g>
<path d="M765.5 622.7V1121" stroke="#334" stroke-opacity="0.35" stroke-width="1" fill="none"/>
<path d="M261.3 622.7H765.5M261.3 1121H765.5" stroke="#181818" stroke-width="1.1" fill="none"/>
<path d="M260.8 622.7h5.5M260.8 668h5.5M260.8 713.3h5.5M260.8 758.6h5.5M260.8 803.9h5.5M260.8 849.2h5.5M260.8 894.5h5.5M260.8 939.8h5.5M260.8 985.1h5.5M260.8 1030.4h5.5M260.8 1075.7h5.5M260.8 1121h5.5M319.4 1121v5.5M383.1 1121v5.5M446.9 1121v5.5M510.6 1121v5.5M574.3 1121v5.5M638 1121v5.5M701.8 1121v5.5M765.5 1121v5.5" stroke="#555" stroke-width="1.1" fill="none"/>
<text x="135.3" y="630.3" font-size="24.2" textLength="114" lengthAdjust="spacingAndGlyphs">December</text>
<text x="134.3" y="675" font-size="24.2" textLength="115" lengthAdjust="spacingAndGlyphs">November</text>
<text x="160.3" y="719.7" font-size="24.2" textLength="89" lengthAdjust="spacingAndGlyphs">October</text>
<text x="127.3" y="764.4" font-size="24.2" textLength="122" lengthAdjust="spacingAndGlyphs">September</text>
<text x="171.3" y="809.1" font-size="24.2" textLength="78" lengthAdjust="spacingAndGlyphs">August</text>
<text x="208.3" y="853.8" font-size="24.2" textLength="41" lengthAdjust="spacingAndGlyphs">July</text>
<text x="199.3" y="898.5" font-size="24.2" textLength="50" lengthAdjust="spacingAndGlyphs">June</text>
<text x="205.3" y="943.2" font-size="24.2" textLength="44" lengthAdjust="spacingAndGlyphs">May</text>
<text x="193.3" y="987.9" font-size="24.2" textLength="56" lengthAdjust="spacingAndGlyphs">April</text>
<text x="180.3" y="1032.6" font-size="24.2" textLength="69" lengthAdjust="spacingAndGlyphs">March</text>
<text x="147.3" y="1077.3" font-size="24.2" textLength="102" lengthAdjust="spacingAndGlyphs">February</text>
<text x="161.3" y="1122" font-size="24.2" textLength="88" lengthAdjust="spacingAndGlyphs">January</text>
<text x="264.4" y="1147.5" font-size="23" textLength="12.4" lengthAdjust="spacingAndGlyphs" stroke-width="0.15">0</text>
<text x="312.4" y="1147.5" font-size="23" textLength="12.4" lengthAdjust="spacingAndGlyphs" stroke-width="0.15">6</text>
<text x="368.8" y="1147.5" font-size="23" textLength="27" lengthAdjust="spacingAndGlyphs" stroke-width="0.15">12</text>
<text x="432.6" y="1147.5" font-size="23" textLength="27" lengthAdjust="spacingAndGlyphs" stroke-width="0.15">18</text>
<text x="496.3" y="1147.5" font-size="23" textLength="27" lengthAdjust="spacingAndGlyphs" stroke-width="0.15">24</text>
<text x="560" y="1147.5" font-size="23" textLength="27" lengthAdjust="spacingAndGlyphs" stroke-width="0.15">30</text>
<text x="623.7" y="1147.5" font-size="23" textLength="27" lengthAdjust="spacingAndGlyphs" stroke-width="0.15">36</text>
<text x="687.5" y="1147.5" font-size="23" textLength="27" lengthAdjust="spacingAndGlyphs" stroke-width="0.15">42</text>
<text x="751.2" y="1147.5" font-size="23" textLength="27" lengthAdjust="spacingAndGlyphs" stroke-width="0.15">48</text>
<text x="82" y="1144" font-size="45" textLength="52" lengthAdjust="spacingAndGlyphs">(c)</text>
<clipPath id="cd"><rect x="990.7" y="618.7" width="500" height="498.3"/></clipPath>
<filter id="fcd" x="-5%" y="-5%" width="110%" height="110%"><feGaussianBlur stdDeviation="0.8"/></filter>
<g clip-path="url(#cd)"><g filter="url(#fcd)">
<rect x="987.7" y="615.7" width="506" height="504.3" fill="#28007d"/>
<path fill="#22007d" fill-rule="evenodd" d="M991.7 615.7 1493.7 615.7 1493.7 1120 987.7 1120 987.7 620.3 990.7 620.3 991.7 618.7Z"/>
<path fill="#1a007d" fill-rule="evenodd" d="M997.4 615.7 1493.7 615.7 1493.7 1120 987.7 1120 987.7 629.7 990.7 629.7 997.4 618.7Z"/>
<path fill="#12007c" fill-rule="evenodd" d="M1003.1 615.7 1493.7 615.7 1493.7 1120 987.7 1120 987.7 639 990.7 639 1003.1 618.7Z"/>
<path fill="#0a007a" fill-rule="evenodd" d="M1008 615.7 1493.7 615.7 1493.7 1120 987.7 1120 987.7 648.3 990.7 648.3 1000.7 632 1008 618.7Z"/>
<path fill="#010078" fill-rule="evenodd" d="M1010.3 615.7 1493.7 615.7 1493.7 1120 987.7 1120 987.7 657.6 990.7 657.6 996.7 647.3 1010.3 618.7Z"/>
<path fill="#00008b" fill-rule="evenodd" d="M1012.3 615.7 1493.7 615.7 1493.7 1104.5 1490.7 1104.5 1488.7 1106.5 1482 1117 1482 1120 987.7 1120 987.7 666.4 990.7 666.4 992.7 660.7 1012.3 618.7Z"/>
<path fill="#0000a2" fill-rule="evenodd" d="M1014.3 615.7 1493.7 615.7 1493.7 1068.7 1490.7 1068.7 1488.7 1069.9 1487.2 1071.7 1472.7 1096.4 1459.2 1117 1459.2 1120 987.7 1120 987.7 673.9 990.7 673.9 993.6 664 1014.3 618.7Z"/>
<path fill="#0000b9" fill-rule="evenodd" d="M1016.3 615.7 1493.7 615.7 1493.7 1043.8 1490.7 1043.8 1484.7 1049.9 1467.2 1071.7 1452.7 1091.6 1448.7 1098.7 1444.7 1108.3 1441.6 1117 1441.6 1120 1348.6 1120 1348.6 1117 1346.4 1109.5 1342.7 1097.4 1340.7 1093.8 1327.3 1117 1327.3 1120 987.7 1120 987.7 846.6 990.7 846.6 992 845.2 990.7 837.7 987.7 837.7 987.7 681.3 990.7 681.3 995.8 664 1016.3 618.7Z"/>
<path fill="#0000ce" fill-rule="evenodd" d="M1018.3 615.7 1493.7 615.7 1493.7 1021.9 1490.7 1021.9 1488.7 1022.5 1483.6 1026.4 1470.7 1042.4 1462.7 1051.2 1439.5 1071.7 1434.7 1086.7 1432.7 1095.4 1428.9 1117 1428.9 1120 1362.3 1120 1361.3 1109.4 1358.9 1094.3 1354.7 1076.7 1353 1071.7 1344.7 1064.4 1340.7 1074.1 1332.7 1089.2 1322.7 1105.8 1314.9 1117 1314.9 1120 987.7 1120 987.7 849.4 990.7 849.4 994.5 845.2 992.7 829.1 990.7 822.6 987.7 822.6 987.7 688.8 990.7 688.8 998 664 1018.3 618.7Z"/>
<path fill="#0000e2" fill-rule="evenodd" d="M1020.3 615.7 1493.7 615.7 1493.7 1006.9 1488.7 1007.3 1480.9 1011.3 1474.7 1015.4 1464.7 1024.8 1410.9 1071.7 1414.7 1095.5 1416.2 1120 1376 1120 1377.8 1094.3 1381.5 1071.7 1380.7 1069.6 1378.6 1064.2 1374.7 1057.3 1368.7 1050.6 1364.7 1047.5 1358.7 1044.2 1352.1 1041.5 1344.7 1039.3 1333.7 1071.7 1322.7 1090 1310.7 1103.8 1304.7 1112.6 1302.5 1117 1302.5 1120 987.7 1120 987.7 852.1 990.7 852.1 997 845.2 997.3 837.7 998.7 832.8 1003.3 799.9 1002.7 793.4 1000.7 791.5 995.2 799.9 994.7 802.6 992.7 806.4 990.7 807.6 987.7 807.6 987.7 696.3 990.7 696.3 1000.2 664 1018.7 623.3 1020.3 618.7Z"/>
<path fill="#0000f6" fill-rule="evenodd" d="M1028 615.7 1493.7 615.7 1493.7 992 1488.7 992.1 1480.7 993.9 1472.7 996.2 1466.7 998.6 1412.7 1045.2 1408.7 1047.7 1404.7 1047.3 1402.7 1046.6 1400.7 1045 1392.8 1026.4 1386.7 1021.9 1380.7 1018.3 1378.7 1017.6 1346.7 1017.7 1344.7 1018.3 1340.4 1026.4 1330.4 1056.6 1326.7 1066 1322.7 1067.2 1258.7 1067.7 1256.7 1069 1254.4 1071.7 1252.7 1083.1 1251.6 1086.8 1248.7 1094.9 1244.8 1101.9 1242.7 1104.3 1238.7 1107.3 1234.7 1109.1 1228.7 1110.9 1218.7 1112.5 1156.7 1113 1154.7 1113.2 1152.7 1114.9 1151 1117 1151 1120 987.7 1120 987.7 854.9 990.7 854.9 999.5 845.2 1006 799.9 1004.7 774.8 1002.7 775.8 996.7 790.2 994.7 793.7 990.7 798.1 987.7 798.1 987.7 703.8 990.7 703.8 1002.9 664 1016.7 635.6 1024.7 622.2 1028 618.7Z"/>
<path fill="#0009f4" fill-rule="evenodd" d="M1038.6 615.7 1493.7 615.7 1493.7 970.9 1484.7 971.2 1468.7 973 1464.7 974.4 1428.7 1006.3 1414.7 1015.3 1412.7 1015.1 1406.7 1010.3 1398.7 1005.7 1390.7 1002.5 1380.7 999.6 1346.7 999.9 1344.7 1000.8 1342.7 1002.7 1338.7 1008.4 1334.7 1017.6 1328.7 1036.2 1326.7 1040.1 1324.7 1042.3 1262.7 1044.2 1258.7 1045.1 1250.7 1050.3 1244.7 1056.1 1240.7 1061.5 1232.7 1075.9 1226.7 1083.2 1222.7 1086.7 1220.7 1087.6 1156.7 1090.9 1154.7 1091.8 1148.7 1096.3 1142.7 1102.8 1136.7 1112.6 1134.7 1117 1134.7 1120 987.7 1120 987.7 857.6 990.7 857.6 998.7 848.9 1001.2 845.2 1008 799.9 1006.7 757.3 1004.7 761.9 998.7 780.3 994.7 789 990.7 794.3 987.7 794.3 987.7 710.4 990.7 710.4 991.5 709.3 1006 664 1008.7 658.7 1016.7 644.6 1022.7 635.7 1026.7 630.6 1030.7 627.1 1034.7 624.9 1036.7 622.6 1038.6 618.7Z"/>
<path fill="#0014eb" fill-rule="evenodd" d="M1041 615.7 1493.7 615.7 1493.7 931.3 1490.7 931.3 1488.7 932.4 1486.2 935.8 1466.7 945.4 1456.7 952.1 1454.7 953.7 1450.7 959.5 1446.7 969.9 1442.7 975.3 1440.7 976.6 1430.7 980.3 1416.7 980.6 1412.7 979.7 1410.7 978.5 1386.5 981.1 1346.7 982.1 1338.7 982.9 1332.7 984.7 1330.7 986.1 1328.7 988.6 1326.7 989.4 1290.7 995.3 1256.7 1001.5 1220.7 1009 1198.7 1014.4 1193.5 1018.9 1192.7 1020.3 1190.7 1021.6 1188.7 1021.8 1184.7 1025.9 1182.5 1026.4 1180.7 1033 1178.9 1034 1176.7 1040.1 1175.4 1041.5 1174.7 1043.7 1171.3 1049.1 1170.7 1051.2 1166.7 1057.6 1162.7 1062 1160.7 1063.1 1146.7 1066 1142.7 1070.9 1136.6 1071.7 1132.7 1084.3 1130.7 1086.8 1126.7 1099.5 1125.1 1101.9 1119.5 1117 1119.5 1120 987.7 1120 987.7 860.4 990.7 860.4 998.7 851.6 1002.1 845.2 1009.3 799.9 1007.8 754.6 1013.4 709.3 1024.5 664 1041 618.7ZM1392.7 799.4 1392.3 799.9 1392.7 801.8 1394.7 804.4 1426.7 804 1428.7 800.2 1430.8 799.9 1430.7 799.3ZM1024.1 641.4 1024.7 640.5 1025.3 641.4 1024.7 644ZM1018.5 648.9 1020.7 645.6 1022.7 645 1023.8 648.9 1018.5 664 1008.8 709.3 1005.6 754.6 1000.7 770.4 996.7 781.1 992.7 789 990.7 790.6 987.7 790.6 987.7 714.5 990.7 714.5 994.4 709.3 1009.1 664Z"/>
<path fill="#0020e3" fill-rule="evenodd" d="M1043.4 615.7 1447.9 615.7 1447.9 618.7 1448.7 621.6 1449.2 615.7 1493.7 615.7 1493.7 884.8 1470.7 884.8 1468.7 885.4 1464.7 890.2 1459.7 913.1 1452.7 940.9 1448.7 953.6 1444.7 962.5 1442.7 964.8 1440.7 965.8 1432.7 967.8 1418.7 968 1416.7 966.5 1415.1 958.5 1414 935.8 1407.3 890.5 1407.3 845.2 1408.7 840.1 1410.7 838.9 1412.7 833.1 1414.7 831.7 1416.7 826.1 1418.7 824.4 1420.7 819 1422.7 817 1424.7 811.9 1426.7 809.7 1428.7 804.8 1432.1 799.9 1430.7 788.6 1396.7 788.6 1394.7 789 1392.7 791.6 1389.7 799.9 1397.7 845.2 1396.7 848.8 1394.7 851.2 1392.5 852.8 1390.7 857.9 1387.2 860.3 1384.7 866.1 1382.2 867.9 1380.7 872.5 1376.7 875.1 1374.7 881 1371.8 883 1370.7 886.7 1368.7 889 1366.7 889.6 1366.2 890.5 1367.8 935.8 1366.7 939.5 1358.7 955.5 1354.7 962.6 1350.7 968.1 1348.7 969.8 1344.7 970.8 1242.7 972.1 1232.7 973.2 1224.7 976.2 1218.7 976.5 1214.7 978.9 1208.7 980.4 1206.7 985 1203.6 988.7 1202.7 991.4 1198.8 996.2 1196.7 1000.8 1194.2 1003.8 1192.7 1007.3 1189.5 1011.3 1188.7 1013.3 1184.7 1018.7 1182.7 1022.8 1180 1026.4 1178.7 1029.7 1176.7 1032.3 1172.7 1033.8 1170.7 1038.6 1168.7 1039.7 1166.7 1040.1 1165.1 1041.5 1162.7 1046.2 1158.7 1047.9 1154.7 1053.7 1150.7 1055.5 1148.7 1059.2 1146.7 1061.1 1142.7 1063.3 1140.7 1066.8 1138.7 1068.4 1136.7 1069.1 1134.1 1071.7 1114.2 1117 1114.2 1120 987.7 1120 987.7 863.2 990.7 863.2 996.7 856.6 998.7 854 1002.9 845.2 1010.3 799.9 1008.9 754.6 1015 709.3 1027.1 664 1043.4 618.7ZM1012.3 664 1014.7 660.1 1016.3 664 1006.9 709.3 1004.6 754.6 998.7 772.8 992.7 786.1 990.7 786.9 987.7 786.9 987.7 718.7 990.7 718.7 997.3 709.3Z"/>
<path fill="#022dd5" fill-rule="evenodd" d="M1045.7 615.7 1445.4 615.7 1446.7 629.8 1448.7 634.9 1450.7 625.3 1451.6 615.7 1493.7 615.7 1493.7 872.4 1474.7 872.4 1472.7 873.1 1470.7 874.9 1462.7 890.5 1451.7 935.8 1448.7 945 1446.7 949.9 1444.7 953 1442.7 954.1 1434.7 955.4 1418.7 955.5 1416.7 947.1 1416 935.8 1408.7 890.5 1408.7 845.2 1433.3 799.9 1432 784.8 1430.7 777.9 1396.7 777.9 1392.7 787.4 1388.5 799.9 1395.9 845.2 1394.7 847.9 1390.7 852.7 1388.7 856.4 1386.7 858.1 1384.7 862.4 1380.7 866.9 1378.7 871.1 1376.7 872.5 1374.7 876.7 1372.7 879.6 1370.7 881.4 1368.7 885.7 1366.7 887.2 1364.7 890.5 1365.8 935.8 1356.7 953.2 1352.7 958.3 1350.7 959.5 1348.7 959.8 1252.7 960.7 1250.7 961 1246.7 963.2 1238.7 965.6 1232.7 968.8 1228.7 969.3 1222.7 971.9 1218.7 972.5 1216.7 973.4 1214.7 976.1 1212.7 977.4 1208.7 978.6 1206.3 981.1 1176.7 1029.3 1172.7 1031.5 1168.7 1037.1 1164.7 1039.2 1160.7 1044.7 1158.7 1045.4 1156.7 1047.1 1154.7 1050.3 1150.7 1052.9 1146.7 1058 1142.7 1060.7 1138.7 1065.2 1131.7 1071.7 1118.7 1099 1109.3 1117 1109.3 1120 987.7 1120 987.7 865.9 990.7 865.9 996.7 859.3 1000.7 852 1003.6 845.2 1011.3 799.9 1010.1 754.6 1016.6 709.3 1029.6 664 1045.7 618.7ZM1010.3 679.1 1010.7 678 1010.7 680.4ZM1007.8 686.7 1008.7 683.9 1009.4 686.7 1004.9 709.3 1003.8 754.6 998.7 769.6 992.7 782.8 987.7 783.1 987.7 722.9 990.7 722.9 998.7 713Z"/>
<path fill="#053ac4" fill-rule="evenodd" d="M1047.9 615.7 1443.5 615.7 1443.9 626.2 1445.7 641.4 1446.7 645.4 1448.7 648.2 1451.2 641.3 1452.6 633.8 1454 615.7 1493.7 615.7 1493.7 859.9 1476.7 860.1 1472.7 865.8 1460.8 890.5 1449.4 935.8 1446.7 941.2 1444.7 942.5 1438.7 942.9 1418.7 942.9 1410.1 890.5 1410.1 845.2 1416.7 833.9 1418.3 830.1 1420.7 826.4 1434.6 799.9 1433.1 777.2 1431.6 769.7 1430.7 767.2 1400.7 767.2 1398.7 768 1396.7 772 1387.3 799.9 1394.4 845.2 1392.7 847.9 1390.7 849.3 1388.7 853.7 1384.7 858.2 1382.7 862.5 1380.7 863.6 1378.7 868.2 1374.7 872.6 1372.7 877.1 1370.7 878.4 1368.4 883 1364.7 887.1 1363.3 890.5 1363.9 935.8 1358.7 944.6 1354.7 948.8 1268.7 949.2 1258.7 950.7 1254.7 954.5 1246.7 957.8 1242.7 960.7 1236.7 962.3 1232.7 964.4 1226.7 965.4 1222.7 968.8 1216.7 971.1 1212.7 975.3 1206.7 978 1200.7 986.5 1198.7 990.6 1196.7 992.9 1194.7 997.1 1182.7 1015.7 1176.7 1026.4 1174.7 1028.8 1172.7 1029.2 1170.7 1030.6 1168.7 1034.4 1164.7 1036.5 1162.7 1038.4 1160.7 1042.3 1156.7 1044.1 1152.9 1049.1 1148.7 1051.9 1144.7 1056.6 1138.7 1061.3 1136.8 1064.2 1130.7 1069.1 1116.7 1096.2 1104.7 1116.5 1104.4 1120 987.7 1120 987.7 868.7 990.7 868.7 996.7 861.7 1004.3 845.2 1012.3 799.9 1011.2 754.6 1018.2 709.3 1032.1 664 1047.9 618.7ZM993.4 724.4 996.7 721 1000.7 719.1 1002.7 720.8 1003 754.6 998.7 767 994.7 776.1 992.7 779.3 987.7 779.4 987.7 727 990.7 727Z"/>
<path fill="#0747b4" fill-rule="evenodd" d="M1049.7 615.7 1441.2 615.7 1441.6 641.4 1442.7 653.5 1443.3 656.5 1444.7 659.5 1446.7 661.1 1448.7 661.6 1452.7 659.2 1454.7 654.6 1455.9 641.4 1456.3 615.7 1493.7 615.7 1493.7 847.5 1480.7 847.5 1478.7 850 1460.7 885.4 1456.7 897.2 1452.7 904.1 1414.7 903.9 1414.3 898 1412.2 890.5 1412.2 845.2 1414.7 843.5 1416.3 837.7 1418.7 836.1 1420.3 830.1 1422.7 828.6 1424.3 822.6 1426.7 821.1 1428.3 815 1430.7 813.7 1432.3 807.5 1434.7 806.2 1436.4 799.9 1434.7 762.2 1432.7 757.6 1430.7 756.5 1400.7 756.5 1396.7 763.9 1393 777.2 1388.7 787.7 1385.2 799.9 1387.3 815 1389.1 822.6 1389.7 830.1 1393 845.2 1388.7 846.9 1386.9 852.8 1384.7 853.4 1382.7 858.2 1381 860.3 1378.7 861.6 1376.7 863.9 1375.7 867.9 1372.7 870.6 1370.8 875.4 1368.7 876.4 1366.7 878.7 1365.6 883 1362.7 884.8 1361.2 890.5 1361.3 935.8 1360.7 936.7 1356.7 937.8 1276.7 937.9 1274.7 938.8 1272.7 940.9 1265.2 943.4 1262.7 946.3 1254.7 950.1 1250.7 953.3 1244.7 955.2 1240.7 957.7 1234.7 958.4 1230.7 961.5 1224.7 963.6 1220.7 967.6 1214.7 970 1212.3 973.5 1210.7 974.6 1206.7 975.4 1204.7 976.6 1202.7 981.2 1200.7 981.9 1198.7 983.8 1197.3 988.7 1194.7 990.2 1192.8 996.2 1190.7 997.3 1188.7 1000.4 1187.8 1003.8 1184.7 1006.2 1183.4 1011.3 1180.7 1012.9 1179.1 1018.9 1176.7 1020 1174.7 1026.8 1170.7 1027 1168.7 1027.8 1164.7 1032.4 1164 1034 1158.7 1036 1156.7 1037.9 1155.7 1041.5 1150.7 1043.1 1148.7 1045.8 1147.7 1049.1 1142.7 1050.5 1141 1056.6 1136.7 1057.2 1134.7 1059.5 1133 1064.2 1128.7 1065.6 1126.7 1071.9 1124.7 1073.2 1120.7 1079.2 1116.7 1082.6 1114.5 1086.8 1112.7 1088 1110.7 1091.3 1106.7 1091.3 1104.7 1093 1099.5 1117 1099.5 1120 987.7 1120 987.7 871.5 990.7 871.5 994.7 867.1 998.7 860.1 1005 845.2 1013.3 799.9 1012.4 754.6 1019.8 709.3 1048.7 621.9 1049.7 618.7ZM987.7 732 987.7 731.2 990.7 731.2 996.7 726.3 998.7 727.8 1000.8 732 1002.2 754.6 994.7 773.4 992.7 775.7 987.7 775.7Z"/>
<path fill="#0b55a0" fill-rule="evenodd" d="M1051.4 615.7 1411.2 615.7 1411.2 664 1408.9 709.3 1398.5 754.6 1396.7 758.3 1394.7 761 1392.9 762.2 1390.7 766.8 1387 769.7 1384.7 774.3 1380.7 777.2 1378.7 780.7 1374.7 783.7 1372.7 786.3 1370.7 787.8 1366.7 789.3 1362.7 789.9 1356.7 791.9 1354.7 794.5 1348.9 799.9 1357 845.2 1330.7 902.8 1328.6 905.6 1322.7 916.5 1316.7 924.1 1312.7 925.6 1284.7 925.6 1280.7 926.4 1278.7 927.5 1270.7 938.3 1262.7 942.6 1258.7 946 1252.7 948.2 1249.2 950.9 1242.7 951.7 1238.7 954.2 1232.7 956 1228.7 959.8 1222.7 961.8 1219.5 966 1212.7 967.5 1210.7 969.3 1208.7 969.8 1196.7 969.9 1194.7 969 1193.4 966 1195.1 958.5 1194.7 956.3 1189.9 958.5 1186.7 963.9 1184.7 964.8 1183.6 966 1182.7 968.3 1178.7 972.7 1176.7 976.3 1172.4 981.1 1168.7 987.3 1167.1 988.7 1164.7 993.4 1161.3 996.2 1158.7 1001.4 1155.9 1003.8 1154.7 1006.7 1150.7 1010.4 1148.7 1014.7 1144.7 1018.6 1142.7 1022.6 1140.7 1024.1 1136.7 1030.6 1132.6 1034 1130.7 1037.5 1126.1 1041.5 1124.7 1044 1119.1 1049.1 1114.7 1054.5 1111.5 1056.6 1108.7 1060.8 1104.7 1063 1102.7 1066.4 1096.3 1071.7 1078.2 1117 1078.2 1120 987.7 1120 987.7 874.2 990.7 874.2 994.7 869.5 998.7 861.8 1005.7 845.2 1014.3 799.9 1013.5 754.6 1021.4 709.3 1038.7 659.2 1050.7 620.9 1051.4 618.7ZM1480.7 633.8 1482.7 629.9 1484.7 628.9 1493.7 628.9 1493.7 789.7 1444.7 789.7 1441.3 784.8 1439.2 777.2 1437.6 754.6 1438.7 750.6 1440.7 748.1 1442.7 743 1448.7 732.2 1450.7 727.3 1460.1 709.3 1477.4 664 1478.7 643.1ZM996 732 996.7 731.6 998.7 735.1 1000 739.5 1001.4 754.6 994.7 770.7 992.7 771.9 987.7 771.9 987.7 735.3 990.7 735.3ZM1443 815 1444.7 812.1 1446.7 810.1 1470.7 810.1 1472.7 810.6 1474.7 815.3 1476.7 825.8 1478.1 845.2 1464.7 873.1 1460.7 878.6 1458.7 880.3 1446.7 880.3 1444.7 878.3 1443 875.4 1440.9 867.9 1439.3 845.2 1440.7 823.8Z"/>
<path fill="#0f648c" fill-rule="evenodd" d="M1053.1 615.7 1408.4 615.7 1408.4 664 1406.6 709.3 1396.3 754.6 1394.7 757.5 1390.7 761.4 1388.7 764.6 1384.7 768.2 1382.7 771.3 1378.7 773.8 1376.7 777.2 1368.7 777.3 1366.7 778.3 1359.3 784.8 1346.2 799.9 1354.7 845.2 1332.7 893.4 1324.7 907.2 1320.7 912.5 1318.7 913.1 1286.7 913.2 1284.7 914 1280.7 918.3 1276.7 924.2 1270 935.8 1266.7 938.6 1262.7 939.9 1260.7 941.1 1258.7 943.6 1252.7 944.5 1246.7 946.7 1242.7 947.4 1240.7 948.2 1236.7 951.6 1230.7 953 1226.7 955.8 1222.7 956.4 1204.7 956.3 1202.8 950.9 1206.7 940.4 1209 935.8 1209.2 928.3 1208.7 927.4 1206.7 929.5 1204.7 933.4 1202.7 935.6 1200.7 940.6 1198.7 941.9 1196.7 945.4 1192.7 949.5 1190.7 953.7 1182.7 963.4 1134.7 1029.2 1130.7 1032.9 1126.7 1037.9 1124.7 1039.3 1120.7 1044.4 1116.7 1047.4 1114.7 1050.4 1110.7 1053.4 1096.7 1068.8 1094.7 1070.3 1076.7 1113.4 1074.7 1116.7 1074.6 1120 987.7 1120 987.7 877 990.7 877 994.7 871.9 1006.5 845.2 1015.4 799.9 1014.7 754.6 1023.1 709.3 1039.6 664 1053.1 618.7ZM1481.3 648.9 1482.7 643.5 1484.7 641.4 1493.7 641.4 1493.7 777.2 1444.7 777.2 1442.1 769.7 1439.7 754.6 1462.1 709.3 1479.3 664ZM987.7 739.5 990.7 739.5 994.7 737.3 996.7 736.9 998.7 742.5 999.7 747.1 1000.6 754.6 994.7 767.5 992.7 768.2 987.7 768.2ZM1443.8 830.1 1446.7 822.6 1470.7 822.6 1472.7 823.8 1474.7 834.2 1475.9 845.2 1470.7 856.1 1464.7 866.9 1462.7 867.9 1446.7 867.8 1443.8 860.3 1441.4 845.2Z"/>
<path fill="#0e786a" fill-rule="evenodd" d="M1055.4 615.7 1406.4 615.7 1406.4 664 1404.7 709.3 1394.3 754.6 1392.7 756.8 1390.7 757.7 1386.7 762.9 1380.7 764.8 1374.7 766 1372.7 766.8 1368.7 770.1 1362 777.2 1350.7 790.8 1348.7 794.1 1344.7 798.3 1344.1 799.9 1352.8 845.2 1334.7 884.7 1332.7 888 1332 890.5 1326.7 898.8 1322.7 900.6 1292.7 900.8 1288.7 902 1286.7 903.6 1280.7 911 1272.7 924.8 1270.7 929.4 1268.7 932.1 1267.6 935.8 1266.7 936.6 1260.7 937.6 1256.7 939 1250.7 939.2 1246.7 940.7 1244.7 942.2 1242.7 942.5 1212.7 942.7 1211.7 935.8 1215.1 913.1 1214.7 909.9 1212.7 911.6 1208.7 918.8 1200.7 936.4 1196.7 940 1194.7 944.2 1192.7 945.8 1190.7 948.5 1189.7 950.9 1186.7 953.9 1184 958.5 1180.7 961.7 1178.5 966 1174.7 969.7 1172.7 974 1168.7 978.1 1166.7 982.7 1164.7 984.2 1162 988.7 1158.7 991.8 1156.7 996.2 1152.7 999.8 1150.9 1003.8 1148.7 1005.5 1145.5 1011.3 1142.7 1014 1139.9 1018.9 1136.7 1022.3 1134.7 1026.5 1132.7 1028.6 1130.7 1029.3 1128.7 1031.4 1126.7 1034.9 1122.7 1037 1120.7 1040.2 1112.7 1047 1108.7 1052.2 1106.7 1053.2 1102.7 1059.1 1100.7 1059.9 1096.7 1066.2 1094.7 1067.1 1092.7 1069.4 1090.7 1075.1 1086.7 1083.4 1084.7 1089.4 1074.7 1112.1 1072.9 1117 1072.9 1120 987.7 1120 987.7 879.8 990.7 879.8 994.7 874.2 1007.7 845.2 1016.6 799.9 1016.7 754.6 1025.4 709.3 1041.7 664 1055.4 618.7ZM1483.1 656.5 1484.7 653.8 1493.7 653.8 1493.7 764.8 1444.7 764.8 1442.3 754.6 1462.7 713.4 1480.7 667ZM987.7 747.1 987.7 743.6 990.7 743.6 994.7 742.1 996.7 742.2 999.5 754.6 996.7 760.9 994.7 764 987.7 764.4ZM1445.8 837.7 1446.7 835 1470.7 835 1472.7 836.9 1473.9 845.2 1469.5 852.8 1466.7 855.1 1446.7 855.4 1444.1 845.2Z"/>
<path fill="#01972c" fill-rule="evenodd" d="M1057.8 615.7 1354 615.7 1354 618.7 1354.7 620.4 1356.7 622.3 1360.7 623.8 1364.7 629.4 1370.7 643.5 1376.7 664 1375.8 686.7 1373.7 709.3 1375.8 732 1376.7 754.6 1374.7 758.6 1370.8 762.2 1368.7 765.5 1366.7 767.3 1362.7 772.8 1360.7 774.3 1358.7 778.1 1354.7 781.5 1352.7 785.8 1350.7 786.5 1348.7 788.4 1347 792.4 1344.7 792.8 1342.7 794.8 1340.7 795.4 1242.7 795.4 1238.7 798.7 1237.9 799.9 1235.8 830.1 1234.2 845.2 1232.7 850.8 1226.7 871.4 1218.7 894.5 1216.7 897.7 1205.7 920.7 1201.3 928.2 1198.7 931.3 1194.7 931.3 1192.7 932.5 1189.3 935.8 1186.7 942.1 1184.7 943.4 1182.7 949 1180.4 950.9 1178.7 955.4 1175.9 958.5 1172.7 964.4 1170.7 966.1 1168.7 970.6 1165.1 973.5 1162.7 976.6 1154.7 976.6 1152.7 977.4 1150.7 979.4 1148.7 980.2 1147.9 981.1 1146.7 985.8 1144.2 988.7 1142.7 993.5 1140.3 996.2 1138.7 1001.1 1136.3 1003.8 1134.7 1008.3 1132.1 1011.3 1130.7 1015 1124.7 1021.7 1118.7 1025.8 1116.7 1031.1 1114.7 1032.6 1113.8 1034 1112.7 1037.4 1108.9 1041.5 1106.7 1046.2 1104.7 1047.5 1102.7 1052.8 1100.7 1053.8 1094.7 1062.4 1092.7 1063.9 1086.7 1066.4 1081.1 1071.7 1069.4 1117 1069.4 1120 987.7 1120 987.7 882.5 990.7 882.5 994.7 876.5 998.7 866.9 1009.1 845.2 1017.8 799.9 1018.8 754.6 1027.8 709.3 1043.8 664 1057.8 618.7ZM993.8 747.1 994.7 746.8 996.7 747.5 998.3 754.6 996.7 758.2 994.7 760.4 987.7 760.7 987.7 747.8 990.7 747.8ZM1267.2 807.5 1268.7 804.6 1292.7 804.4 1294.7 805 1296.2 807.5 1297.8 815 1299.1 845.2 1297.8 875.4 1296.7 881.6 1294.7 885.4 1292.7 886 1270.7 886 1268.7 885.8 1267.2 883 1266 875.4 1265.5 867.8 1265.1 845.2 1265.5 822.6 1266 815Z"/>
<path fill="#0ba61d" fill-rule="evenodd" d="M1060.2 615.7 1350.2 615.7 1350.7 620.4 1358.7 639.8 1362.7 646.3 1366.7 649.4 1368.7 652.6 1370.7 656.1 1373.8 664 1370.4 709.3 1373.8 754.6 1372.7 756.2 1370.7 757.6 1367.7 762.2 1364.7 764.2 1360.7 769.8 1344.7 770.5 1250.7 770.5 1242.7 783.3 1235 799.9 1231.6 845.2 1217.7 890.5 1210.7 904 1208.7 905.9 1202.7 906.4 1200.7 907.9 1194.7 917.2 1186.6 935.8 1184.7 938.7 1182.7 940.7 1180.7 944.7 1178.7 946 1174.7 951.2 1166.7 951.7 1160.7 957.5 1150.7 971.6 1148.7 975.4 1146.7 977.6 1144.7 982.1 1140.7 988.7 1135.1 996.2 1128.7 1001.5 1122.7 1008.2 1116.7 1015.6 1106.7 1029.9 1096.7 1040.8 1092.7 1046.3 1084.7 1058.9 1077.7 1071.7 1062.7 1114.7 1062 1117 1062 1120 987.7 1120 987.7 885.3 990.7 885.3 992.7 882.5 998.7 869 1010.5 845.2 1019 799.9 1020.9 754.6 1030.2 709.3 1045.9 664 1060.2 618.7ZM987.7 754.6 987.7 752 994.7 751.6 996.7 752.9 997.1 754.6 996.7 755.5 994.7 756.9 992.7 757 987.7 757ZM1269.6 830.1 1270.7 829.3 1292.7 829.3 1294.7 832.8 1296 845.2 1294.7 857.6 1292.7 861.1 1270.7 861.1 1268.7 859.6 1267.4 845.2 1268.7 830.8Z"/>
<path fill="#15b40f" fill-rule="evenodd" d="M1062.6 615.7 1264.9 615.7 1253.8 754.6 1242.6 777.2 1240.7 780 1238.7 785.1 1236.7 785.7 1234.7 787.2 1226.7 788.7 1223.7 792.4 1219.3 799.9 1213.7 837.7 1210.7 851.6 1206.7 866 1196.7 896.1 1188.7 916.5 1184.7 922.1 1178.7 923.5 1174.7 927.2 1168.7 939.6 1162.7 947.8 1160.7 951.5 1158.7 953.6 1155.8 958.5 1152.7 961.6 1150.7 965.7 1146.7 968 1140.7 969.4 1134.7 973.3 1132.7 977.6 1130.7 979 1129.3 981.1 1124.7 989.6 1114.7 1005.4 1110.2 1011.3 1098.7 1024.2 1092.7 1032.7 1080.7 1053.5 1072.3 1071.7 1058.7 1116 1058.4 1120 987.7 1120 987.7 888.1 990.7 888.1 992.7 884.7 1011.8 845.2 1020.3 799.9 1022.9 754.6 1032.6 709.3 1062.6 618.7Z"/>
<path fill="#2cc107" fill-rule="evenodd" d="M1065.2 615.7 1251.8 615.7 1251.2 664 1244.3 754.6 1238.7 757.8 1235.3 762.2 1218.7 792.6 1214.7 796.5 1204.5 799.9 1202.8 845.2 1187.2 890.5 1182.7 893.3 1178.7 900.3 1168.7 924.9 1166.6 928.2 1164.7 932.9 1162.7 934.9 1154.7 939.2 1152.7 942.1 1150.7 943.2 1148.7 947.5 1146.7 949.4 1134.7 967.1 1132.7 969.1 1130.2 973.5 1124.7 979.1 1116.7 984.8 1112.7 989.9 1110.7 993.9 1108.7 995.9 1106.7 999.9 1098.7 1010.8 1088.7 1020.8 1086.7 1024.4 1084.7 1025.9 1080.7 1038 1067.4 1071.7 1055.9 1117 1055.9 1120 987.7 1120 987.7 890.9 990.7 890.9 1013.2 845.2 1021.8 799.9 1025 754.6 1034.7 711 1065.2 618.7Z"/>
<path fill="#49cd03" fill-rule="evenodd" d="M1068.5 615.7 1238.6 615.7 1241.8 664 1234.8 754.6 1230.7 761.7 1226.7 766.5 1208.7 773.3 1206.7 775.4 1204.7 776.5 1190.7 797.9 1189.9 799.9 1193.3 845.2 1190.7 853.2 1188.7 857.1 1184.7 862.5 1182.7 867.1 1174.7 894 1172.7 898.7 1170.7 901.4 1168.7 903.9 1164.7 906.2 1160.7 912.6 1151.8 935.8 1150.7 937.6 1148.7 939.1 1146.7 943.3 1144.7 944.6 1140.7 948.8 1134.7 952.2 1128.7 958.5 1114.7 978.5 1112.7 982.9 1110.7 984.8 1108.7 988.7 1100.7 995.2 1096.7 1000.5 1084.7 1021.3 1082.2 1026.4 1064.9 1071.7 1054.7 1115.8 1054.5 1120 987.7 1120 987.7 894.1 990.7 894.1 991.9 890.5 1014.5 845.2 1023.6 799.9 1026.9 754.6 1038 709.3 1068.5 618.7Z"/>
<path fill="#69d900" fill-rule="evenodd" d="M1071.8 615.7 1210 615.7 1210 618.7 1217.4 648.9 1220.3 664 1213.5 754.6 1199.8 777.2 1196.7 780.7 1194.7 784.3 1174.7 792 1168.4 799.9 1171.3 845.2 1156.7 893.1 1148.7 914.3 1144.7 922.2 1140.7 927.6 1136.7 935.2 1134.7 940.3 1132 943.4 1130.7 946.3 1120.7 960.8 1114.7 967.9 1110.7 972 1108.2 973.5 1104.7 978.6 1102.7 979.8 1079.9 1026.4 1062.6 1071.7 1054.7 1111.4 1053.7 1120 987.7 1120 987.7 897.4 990.7 897.4 993 890.5 1015.8 845.2 1025.5 799.9 1028.8 754.6 1040.9 709.3 1056.8 664 1071.8 618.7Z"/>
<path fill="#97e200" fill-rule="evenodd" d="M1075.2 615.7 1206.3 615.7 1206.3 618.7 1209.1 633.8 1216.9 664 1215.3 679.1 1209.7 754.6 1206.7 757.5 1204.7 760.3 1184.7 769.2 1182.7 770.8 1178.7 775.3 1166.7 795.7 1165 799.9 1165.6 815 1168 845.2 1154.2 890.5 1146.7 902.4 1142.7 910.6 1133.5 935.8 1128.7 942.4 1114.7 958.4 1100.7 978 1096.7 985.4 1078.7 1023.7 1068.7 1049.7 1062.7 1067.2 1060.6 1071.7 1052.9 1117 1052.9 1120 987.7 1120 987.7 1076 990.7 1076 991.2 1071.7 990.7 1067 987.7 1067 987.7 900.7 990.7 900.7 994.1 890.5 1017.1 845.2 1027.5 799.9 1030.8 754.6 1043.8 709.3 1060.7 662.5 1075.2 618.7Z"/>
<path fill="#c8ee00" fill-rule="evenodd" d="M1080 615.7 1184.2 615.7 1188 664 1184.4 709.3 1184.5 754.6 1182.7 759.1 1170.7 779.1 1166.7 783 1152.5 792.4 1146.2 799.9 1146.7 830.1 1146.2 852.8 1144.7 859 1143.9 867.9 1142.7 872.9 1141.7 883 1140.1 890.5 1130.7 924.7 1127.1 935.8 1112.7 954.5 1094.6 981.1 1082.7 1008 1074.7 1028 1059.8 1071.7 1052 1117 1052 1120 987.7 1120 987.7 1082.2 990.7 1082.2 991.9 1071.7 990.7 1060.2 987.7 1060.2 987.7 903.9 990.7 903.9 995.3 890.5 1012.7 857.2 1014.7 852.4 1016.7 849.4 1018.4 845.2 1029.4 799.9 1032.7 754.6 1046.8 709.3 1064.1 664 1080 618.7Z"/>
<path fill="#edf700" fill-rule="evenodd" d="M1084.7 615.7 1179.4 615.7 1183.1 656.5 1184.5 664 1183.2 671.6 1182.7 684.7 1181.2 694.2 1180.8 701.8 1180.8 754.6 1160.7 768.6 1156.7 773.4 1152.7 779.8 1146.7 790.1 1141.8 799.9 1143.6 837.7 1144.5 845.2 1137.8 883 1137 890.5 1128.7 909.9 1119.7 935.8 1108.7 951.7 1095 973.5 1092.7 978.2 1090.4 981.1 1086.7 991.9 1073.3 1026.4 1059.1 1071.7 1051.1 1117 1051.1 1120 987.7 1120 987.7 1088.5 990.7 1088.5 992.7 1071.7 990.7 1053.4 987.7 1053.4 987.7 907.2 990.7 907.2 996.6 890.5 998.7 888.4 1000.7 883 1002.7 880.7 1004.7 875.4 1006.7 873 1008.7 867.9 1010.7 865.3 1012.7 860.3 1014.7 857.7 1016.6 852.8 1018.7 850.1 1020.4 845.2 1032.1 799.9 1034.3 769.7 1034.7 754.6 1036.7 750.7 1038.7 744.9 1050.2 709.3 1066.7 668.5 1080.7 630.4 1084.7 618.7Z"/>
<path fill="#fcf800" fill-rule="evenodd" d="M1092 615.7 1172.9 615.7 1172.4 626.2 1167.4 671.6 1159 724.4 1158.4 732 1156.7 738.6 1156 747.1 1152.7 759.6 1136.3 799.9 1135.7 822.6 1134.4 845.2 1128.7 867.5 1121.6 890.5 1112 935.8 1104.7 950.1 1102.7 952.9 1100.7 958 1098.7 960.2 1096.7 965.8 1094.7 968.1 1092.7 973.5 1088.7 981.1 1072 1026.4 1058.1 1071.7 1051.3 1109.5 1050 1117 1050 1120 987.7 1120 987.7 1094.8 990.7 1094.8 993.5 1071.7 990.7 1046.5 987.7 1046.5 987.7 910.4 990.7 910.4 994.7 898.9 996.7 894.6 1000.7 890.5 1016.7 863 1028.2 845.2 1041.8 799.9 1043.5 754.6 1060.7 703.4 1092 618.7Z"/>
<path fill="#fff000" fill-rule="evenodd" d="M1099.7 615.7 1170.5 615.7 1165 664 1150.2 754.6 1133.8 799.9 1130.7 845.2 1120.7 881.4 1107 935.8 1088.7 978.4 1071.1 1026.4 1056.9 1071.7 1048.7 1117 1048.7 1120 987.7 1120 987.7 1101 990.7 1101 994.3 1071.7 990.7 1039.7 987.7 1039.7 987.7 913.7 990.7 913.7 994.7 902.3 996.7 899.1 1004.3 890.5 1032.8 845.2 1048.5 799.9 1049.6 754.6 1065.2 709.3 1083.1 664 1099.7 618.7Z"/>
<path fill="#ffe100" fill-rule="evenodd" d="M1107.4 615.7 1168.2 615.7 1168.2 618.7 1162.3 664 1153.7 709.3 1146 754.6 1131.5 799.9 1127 845.2 1104.6 935.8 1088.7 975.7 1070.1 1026.4 1055.6 1071.7 1047.5 1117 1047.5 1120 987.7 1120 987.7 1107.3 990.7 1107.3 995.5 1071.7 991 1034 990.7 1032.9 987.7 1032.9 987.7 916.9 990.7 916.9 994.7 905.7 1000.7 899.3 1007.1 890.5 1037.2 845.2 1055.1 799.9 1055.7 754.6 1071.8 709.3 1090.8 664 1107.4 618.7Z"/>
<path fill="#ffce00" fill-rule="evenodd" d="M1115 615.7 1165.9 615.7 1165.9 618.7 1159.5 664 1150 709.3 1141.9 754.6 1129.3 799.9 1123.3 845.2 1102.3 935.8 1069.1 1026.4 1054.4 1071.7 1046.2 1117 1046.2 1120 987.7 1120 987.7 1113.5 990.7 1113.5 991.7 1109.5 992.7 1099.2 998.1 1071.7 993.9 1041.5 990.7 1024.3 987.7 1024.3 987.7 920.2 990.7 920.2 994.7 910.2 998.7 906 1002.7 900.5 1041.6 845.2 1061.5 799.9 1061.5 754.6 1078.3 709.3 1098.2 664 1115 618.7Z"/>
<path fill="#ffb900" fill-rule="evenodd" d="M1120.5 615.7 1164.1 615.7 1164.1 618.7 1157.6 664 1147.5 709.3 1139.1 754.6 1127.4 799.9 1120.5 845.2 1100.2 935.8 1084.8 981.1 1068.1 1026.4 1053.2 1071.7 1044.9 1117 1044.9 1120 992.7 1120 992.7 1117 1002.3 1071.7 996.7 1025.7 991 988.7 990.7 986.9 987.7 986.9 987.7 923.4 990.7 923.4 992.7 917.7 1002.7 904.4 1014.7 886.3 1046 845.2 1066 799.9 1066 754.6 1083.8 709.3 1103.8 664 1120.5 618.7Z"/>
<path fill="#ffa300" fill-rule="evenodd" d="M1126 615.7 1162.9 615.7 1162.9 618.7 1156.2 664 1145.8 709.3 1137.4 754.6 1125.8 799.9 1118.7 845.2 1098.5 935.8 1083.8 981.1 1067.1 1026.4 1052.1 1071.7 1043.5 1117 1043.5 1120 997.1 1120 997.1 1117 1006.5 1071.7 998.8 981.1 990.7 970.6 987.7 970.6 987.7 926.7 990.7 926.7 992.7 921.2 1000.7 911 1014.7 889.3 1028.7 871.4 1050.4 845.2 1070.4 799.9 1070.4 754.6 1088.7 710.8 1109.3 664 1126 618.7Z"/>
<path fill="#ff8f00" fill-rule="evenodd" d="M1131.3 615.7 1161.7 615.7 1161.7 618.7 1155 664 1144.3 709.3 1135.9 754.6 1124.3 799.9 1116.8 845.2 1097.1 935.8 1082.8 981.1 1066.1 1026.4 1051.1 1071.7 1042.1 1117 1042.1 1120 1001.2 1120 1001.2 1117 1010 1071.7 1006.3 1026.4 1007.8 981.1 990.7 958.1 987.7 958.1 987.7 930 990.7 930 992.7 925.7 1000.7 914.8 1016.7 889.3 1038.7 862.6 1041.2 860.3 1044.7 855.3 1047.8 852.8 1050.7 848.2 1054.7 845.2 1056.7 839.2 1061 830.1 1062.7 825.4 1072.7 802.7 1074.7 799.9 1074.7 754.6 1082.7 735.2 1084.7 732 1086.7 726.3 1092.7 712.6 1094.8 709.3 1102.7 690.1 1114.8 664 1131.3 618.7Z"/>
<path fill="#ff7f00" fill-rule="evenodd" d="M1135 615.7 1160.4 615.7 1160.4 618.7 1153.8 664 1142.7 709.3 1134.4 754.6 1122.7 799.9 1115 845.2 1105.8 890.5 1095.8 935.8 1081.7 981.1 1065.1 1026.4 1050.7 1069.6 1040.8 1117 1040.8 1120 1003.6 1120 1003.6 1117 1013.3 1071.7 1008.9 1026.4 1012.5 981.1 996.7 953.7 990.7 945.7 987.7 945.7 987.7 933.2 990.7 933.2 1000.7 918.4 1018.7 889.1 1032.7 872.4 1036.7 868.5 1038.7 865.3 1042.7 861.6 1044.7 858.3 1048.7 854.7 1052.7 848.9 1054.7 847.6 1056.4 845.2 1076.4 799.9 1076.9 754.6 1118.1 664 1135 618.7Z"/>
<path fill="#ff6e00" fill-rule="evenodd" d="M1138.5 615.7 1159.2 615.7 1159.2 618.7 1152.5 664 1141.2 709.3 1132.9 754.6 1121.2 799.9 1113.2 845.2 1104.3 890.5 1094.3 935.8 1080.7 981.1 1064.7 1023.7 1050.7 1066.1 1044 1094.3 1039.4 1117 1039.4 1120 1005.8 1120 1005.8 1117 1016.5 1071.7 1011.4 1026.4 1016.9 981.1 1010.7 969.1 991.7 935.8 994.7 931.9 1004.7 916.3 1018.7 892.7 1019.5 890.5 1024.7 885.5 1026.7 882 1030.7 878.6 1032.7 875 1036.7 871.5 1038.9 867.9 1042.7 864.4 1046.7 858.6 1050.7 854.9 1052.7 851.4 1056.7 848 1060.7 839.6 1078 799.9 1079.1 754.6 1121.4 664 1138.5 618.7Z"/>
<path fill="#fd5700" fill-rule="evenodd" d="M1142.2 615.7 1157.2 615.7 1157.2 618.7 1153.6 641.4 1152.9 648.9 1151.4 656.5 1150.8 664 1139 709.3 1131 754.6 1117.4 807.5 1106.9 867.9 1103.7 883 1102.8 890.5 1097.3 913.1 1092.8 935.8 1086.7 954.5 1079 981.1 1074.7 991.1 1070.8 1003.8 1068.7 1007.4 1066.7 1012.9 1062.7 1026.4 1060.7 1029.8 1048.7 1066 1041.8 1094.3 1037.1 1117 1037.1 1120 1008.4 1120 1008.4 1117 1020.1 1071.7 1015.9 1034 1014.5 1026.4 1016.2 1018.9 1021.7 981.1 1016.7 968.7 1014.7 966 1012.7 960.6 1006.7 949.6 1000.7 940.1 998.7 937.4 996.6 935.8 998.7 934.5 1000.7 929.5 1001.6 928.2 1002.7 927.7 1008.7 916.8 1010.7 914.5 1012.7 909.3 1014.7 906.4 1018.5 898 1020.7 895 1022.1 890.5 1024.7 889.2 1026.7 886.7 1028.6 883 1030.7 881.9 1032.7 880 1035.2 875.4 1038.7 873 1041.6 867.9 1044.7 865.9 1048 860.3 1050.7 858.7 1054.2 852.8 1056.7 851.4 1058.7 848.9 1062.7 841.7 1067.3 830.1 1068.7 828 1074 815 1078.7 805.1 1080.4 799.9 1082.1 754.6 1084.7 750.3 1090.7 737.8 1092.7 732 1094.7 729.8 1096.6 724.4 1098.7 720.8 1103.4 709.3 1108.7 699.2 1122.7 669.5 1140.7 623.3 1142.2 618.7Z"/>
<path fill="#fc4600" fill-rule="evenodd" d="M1148.3 615.7 1151.1 615.7 1151.1 618.7 1149.4 626.2 1148.8 633.8 1147.2 641.4 1144 664 1132.1 709.3 1126.4 754.6 1112.1 799.9 1105.8 845.2 1089.6 935.8 1073.8 981.1 1055.4 1026.4 1039.8 1071.7 1028.8 1117 1028.8 1120 1015.3 1120 1015.3 1117 1027 1071.7 1026.7 1026.4 1030.5 981.1 1022.7 951.3 1017 935.8 1022.7 920.3 1030.5 890.5 1068.4 845.2 1088.6 799.9 1092.9 754.6 1102.7 730.9 1110.6 709.3 1132 664 1148.3 618.7Z"/>
<path fill="#fa3700" fill-rule="evenodd" d="M1125.7 694.2 1126.7 692.6 1127.4 694.2 1124.5 709.3 1121.4 754.6 1112.7 779.5 1104.5 799.9 1100.3 845.2 1092.7 890.5 1086.3 935.8 1068.7 979.3 1047.9 1026.4 1042.7 1040.8 1040.7 1045 1039.4 1041.5 1039.3 981.1 1031.2 935.8 1040.4 890.5 1058.7 869.6 1077.1 845.2 1097.5 799.9 1104.4 754.6 1110.7 735.2 1118.1 709.3Z"/>
<path fill="#fa2a00" fill-rule="evenodd" d="M1092.6 830.1 1094.7 827.1 1095.4 830.1 1094.8 845.2 1087.5 890.5 1082.9 935.8 1070.7 963.3 1050.7 1005.9 1048.7 1008.9 1047.4 1003.8 1043.8 935.8 1053.6 890.5 1068.7 870.9 1082.7 850.2 1085.8 845.2Z"/>
<path fill="#fb1c00" fill-rule="evenodd" d="M1081.8 867.9 1084.7 864.1 1085.4 867.9 1082.4 890.5 1079.6 935.8 1066.7 962.2 1056.7 979.3 1054.7 984.2 1053 981.1 1056.4 935.8 1064.7 899.5 1066.8 890.5Z"/>
<path fill="#fd0e00" fill-rule="evenodd" d="M1074.4 913.1 1074.7 911.9 1075.3 913.2 1076.2 920.7 1076.2 935.8 1072 943.3 1070.7 944.9 1068.7 946.1 1068.2 943.4 1069 935.8Z"/>
</g>
<path fill="none" stroke="#1a0d00" stroke-opacity="0.78" stroke-width="1" stroke-linejoin="round" d="M1408.4 615.7 1408.4 664 1406.6 709.3 1396.3 754.6 1394.7 757.5 1390.7 761.4 1388.7 764.6 1384.7 768.2 1382.7 771.3 1378.7 773.8 1376.7 777.2 1368.7 777.3 1366.7 778.3 1364.7 780.4 1362.7 781.7 1359.3 784.8 1346.2 799.9 1354.7 845.2 1332.7 893.4 1324.7 907.2 1320.7 912.5 1318.7 913.1 1286.7 913.2 1284.7 914 1280.7 918.3 1276.7 924.2 1270 935.8 1266.7 938.6 1262.7 939.9 1260.7 941.1 1258.7 943.6 1252.7 944.5 1248.7 946.1 1240.7 948.2 1236.7 951.6 1230.7 953 1226.7 955.8 1222.7 956.4 1204.7 956.3 1202.8 950.9 1204.7 946.7 1206.7 940.4 1209 935.8 1209.2 928.3 1208.7 927.4 1206.7 929.5 1204.7 933.4 1202.7 935.6 1200.7 940.6 1198.7 941.9 1196.7 945.4 1192.7 949.5 1190.7 953.7 1188.7 955.6 1182.7 963.4 1170.7 979.6 1166.7 985.8 1164.7 987.9 1162.7 991.4 1160.7 993.5 1156.7 999.6 1154.7 1001.6 1152.7 1004.9 1148.7 1009.6 1146.7 1013.1 1134.7 1029.2 1130.7 1032.9 1126.7 1037.9 1124.7 1039.3 1120.7 1044.4 1116.7 1047.4 1114.7 1050.4 1110.7 1053.4 1108.7 1056 1100.7 1063.9 1096.7 1068.8 1094.7 1070.3 1082.7 1099 1081.1 1101.9 1076.7 1113.4 1074.7 1116.7 1074.6 1120M987.7 739.5 990.7 739.5 994.7 737.3 996.7 736.9 998.7 742.5 1000.6 754.6 994.7 767.5 992.7 768.2 987.7 768.2M1493.7 777.2 1444.7 777.2 1442.1 769.7 1440.7 763.2 1439.7 754.6 1462.1 709.3 1479.3 664 1480.7 652.4 1482.7 643.5 1484.7 641.4 1493.7 641.4M1443.8 830.1 1446.7 822.6 1470.7 822.6 1472.7 823.8 1474.7 834.2 1475.9 845.2 1470.7 856.1 1464.7 866.9 1462.7 867.9 1446.7 867.8 1443.8 860.3 1441.4 845.2 1443.8 830.1M987.7 877 990.7 877 994.7 871.9 996.7 868.2 1006.5 845.2 1015.4 799.9 1014.7 754.6 1023.1 709.3 1039.6 664 1053.1 618.7 1053.1 615.7M1179.4 615.7 1180.1 626.2 1183.1 656.5 1184.5 664 1183.2 671.6 1182.7 684.7 1181.2 694.2 1180.8 701.8 1180.8 754.6 1160.7 768.6 1156.7 773.4 1152.7 779.8 1146.7 790.1 1141.8 799.9 1143.6 837.7 1144.5 845.2 1142.8 852.8 1137.8 883 1137 890.5 1128.7 909.9 1119.7 935.8 1108.7 951.7 1095 973.5 1092.7 978.2 1090.4 981.1 1086.7 991.9 1073.3 1026.4 1066.7 1048.6 1059.1 1071.7 1051.1 1117 1051.1 1120M987.7 907.2 990.7 907.2 996.6 890.5 998.7 888.4 1000.7 883 1002.7 880.7 1004.7 875.4 1006.7 873 1008.7 867.9 1010.7 865.3 1012.7 860.3 1014.7 857.7 1016.6 852.8 1018.7 850.1 1020.4 845.2 1032.1 799.9 1034.3 769.7 1034.7 754.6 1036.7 750.7 1038.7 744.9 1050.2 709.3 1066.7 668.5 1080.7 630.4 1084.7 618.7 1084.7 615.7M987.7 1088.5 990.7 1088.5 992.7 1071.7 990.7 1053.4 987.7 1053.4M1157.2 615.7 1157.2 618.7 1153.6 641.4 1152.9 648.9 1151.4 656.5 1150.8 664 1144.6 686.7 1139 709.3 1133.3 739.5 1131 754.6 1117.4 807.5 1106.9 867.9 1103.7 883 1102.8 890.5 1097.3 913.1 1092.8 935.8 1086.7 954.5 1079 981.1 1074.7 991.1 1070.8 1003.8 1068.7 1007.4 1066.7 1012.9 1062.7 1026.4 1060.7 1029.8 1048.7 1066 1041.8 1094.3 1037.1 1117 1037.1 1120M1008.4 1120 1008.4 1117 1020.1 1071.7 1015.9 1034 1014.5 1026.4 1016.2 1018.9 1021.7 981.1 1016.7 968.7 1014.7 966 1012.7 960.6 1006.7 949.6 1000.7 940.1 998.7 937.4 996.6 935.8 998.7 934.5 1000.7 929.5 1001.6 928.2 1002.7 927.7 1008.7 916.8 1010.7 914.5 1012.7 909.3 1014.7 906.4 1018.5 898 1020.7 895 1022.1 890.5 1024.7 889.2 1026.7 886.7 1028.6 883 1030.7 881.9 1032.7 880 1035.2 875.4 1038.7 873 1041.6 867.9 1044.7 865.9 1048 860.3 1050.7 858.7 1052.7 855.9 1054.2 852.8 1056.7 851.4 1058.7 848.9 1060.4 845.2 1062.7 841.7 1067.3 830.1 1068.7 828 1074 815 1078.7 805.1 1080.4 799.9 1081.6 777.2 1082.1 754.6 1084.7 750.3 1085.9 747.1 1090.7 737.8 1092.7 732 1094.7 729.8 1096.6 724.4 1098.7 720.8 1103.4 709.3 1108.7 699.2 1122.7 669.5 1124.7 664 1126.7 660.1 1140.7 623.3 1142.2 618.7 1142.2 615.7"/>
</g>
<path d="M1490.7 618.7V1117" stroke="#334" stroke-opacity="0.35" stroke-width="1" fill="none"/>
<path d="M985.7 618.7H1490.7M985.7 1117H1490.7" stroke="#181818" stroke-width="1.1" fill="none"/>
<path d="M985.2 618.7h5.5M985.2 664h5.5M985.2 709.3h5.5M985.2 754.6h5.5M985.2 799.9h5.5M985.2 845.2h5.5M985.2 890.5h5.5M985.2 935.8h5.5M985.2 981.1h5.5M985.2 1026.4h5.5M985.2 1071.7h5.5M985.2 1117h5.5M1043.9 1117v5.5M1107.7 1117v5.5M1171.6 1117v5.5M1235.4 1117v5.5M1299.2 1117v5.5M1363 1117v5.5M1426.9 1117v5.5M1490.7 1117v5.5" stroke="#555" stroke-width="1.1" fill="none"/>
<text x="863.3" y="626" font-size="24.2" textLength="114" lengthAdjust="spacingAndGlyphs">December</text>
<text x="862.3" y="670.7" font-size="24.2" textLength="115" lengthAdjust="spacingAndGlyphs">November</text>
<text x="888.3" y="715.3" font-size="24.2" textLength="89" lengthAdjust="spacingAndGlyphs">October</text>
<text x="855.3" y="760" font-size="24.2" textLength="122" lengthAdjust="spacingAndGlyphs">September</text>
<text x="899.3" y="804.7" font-size="24.2" textLength="78" lengthAdjust="spacingAndGlyphs">August</text>
<text x="936.3" y="849.3" font-size="24.2" textLength="41" lengthAdjust="spacingAndGlyphs">July</text>
<text x="927.3" y="894" font-size="24.2" textLength="50" lengthAdjust="spacingAndGlyphs">June</text>
<text x="933.3" y="938.6" font-size="24.2" textLength="44" lengthAdjust="spacingAndGlyphs">May</text>
<text x="921.3" y="983.3" font-size="24.2" textLength="56" lengthAdjust="spacingAndGlyphs">April</text>
<text x="908.3" y="1028" font-size="24.2" textLength="69" lengthAdjust="spacingAndGlyphs">March</text>
<text x="875.3" y="1072.6" font-size="24.2" textLength="102" lengthAdjust="spacingAndGlyphs">February</text>
<text x="889.3" y="1117.3" font-size="24.2" textLength="88" lengthAdjust="spacingAndGlyphs">January</text>
<text x="989" y="1146" font-size="23" textLength="12.4" lengthAdjust="spacingAndGlyphs" stroke-width="0.15">0</text>
<text x="1036.9" y="1146" font-size="23" textLength="12.4" lengthAdjust="spacingAndGlyphs" stroke-width="0.15">6</text>
<text x="1093.4" y="1146" font-size="23" textLength="27" lengthAdjust="spacingAndGlyphs" stroke-width="0.15">12</text>
<text x="1157.3" y="1146" font-size="23" textLength="27" lengthAdjust="spacingAndGlyphs" stroke-width="0.15">18</text>
<text x="1221.1" y="1146" font-size="23" textLength="27" lengthAdjust="spacingAndGlyphs" stroke-width="0.15">24</text>
<text x="1284.9" y="1146" font-size="23" textLength="27" lengthAdjust="spacingAndGlyphs" stroke-width="0.15">30</text>
<text x="1348.7" y="1146" font-size="23" textLength="27" lengthAdjust="spacingAndGlyphs" stroke-width="0.15">36</text>
<text x="1412.6" y="1146" font-size="23" textLength="27" lengthAdjust="spacingAndGlyphs" stroke-width="0.15">42</text>
<text x="1476.4" y="1146" font-size="23" textLength="27" lengthAdjust="spacingAndGlyphs" stroke-width="0.15">48</text>
<text x="816" y="1146" font-size="45" textLength="56" lengthAdjust="spacingAndGlyphs">(d)</text>
<rect x="299" y="1187" width="160.5" height="301" fill="#fff" stroke="#222" stroke-width="1.3"/>
<rect x="317.7" y="1208.4" width="57.5" height="26.5" fill="#34057a"/>
<text x="384" y="1233.2" font-size="26" textLength="51" lengthAdjust="spacingAndGlyphs">−0.1</text>
<rect x="317.7" y="1241.8" width="57.5" height="26.5" fill="#030380"/>
<text x="402.2" y="1266.6" font-size="26" textLength="14.5" lengthAdjust="spacingAndGlyphs">0</text>
<rect x="317.7" y="1275.2" width="57.5" height="26.5" fill="#0505e6"/>
<text x="391.2" y="1300" font-size="26" textLength="36.5" lengthAdjust="spacingAndGlyphs">0.1</text>
<rect x="317.7" y="1308.6" width="57.5" height="26.5" fill="#125f78"/>
<text x="391.2" y="1333.4" font-size="26" textLength="36.5" lengthAdjust="spacingAndGlyphs">0.2</text>
<rect x="317.7" y="1342" width="57.5" height="26.5" fill="#55d20a"/>
<text x="391.2" y="1366.8" font-size="26" textLength="36.5" lengthAdjust="spacingAndGlyphs">0.3</text>
<rect x="317.7" y="1375.4" width="57.5" height="26.5" fill="#fff200"/>
<text x="391.2" y="1400.2" font-size="26" textLength="36.5" lengthAdjust="spacingAndGlyphs">0.4</text>
<rect x="317.7" y="1408.8" width="57.5" height="26.5" fill="#fb9206"/>
<text x="391.2" y="1433.6" font-size="26" textLength="36.5" lengthAdjust="spacingAndGlyphs">0.5</text>
<rect x="317.7" y="1442.2" width="57.5" height="26.5" fill="#fb2d0a"/>
<text x="391.2" y="1467" font-size="26" textLength="36.5" lengthAdjust="spacingAndGlyphs">0.6</text>
<text x="802.5" y="1267.7" font-size="59" textLength="116.4" lengthAdjust="spacingAndGlyphs">SPEI</text>
<text transform="translate(55.9 646) rotate(-90)" font-size="59" textLength="171" lengthAdjust="spacingAndGlyphs">Month</text>
</svg>
</body></html>
